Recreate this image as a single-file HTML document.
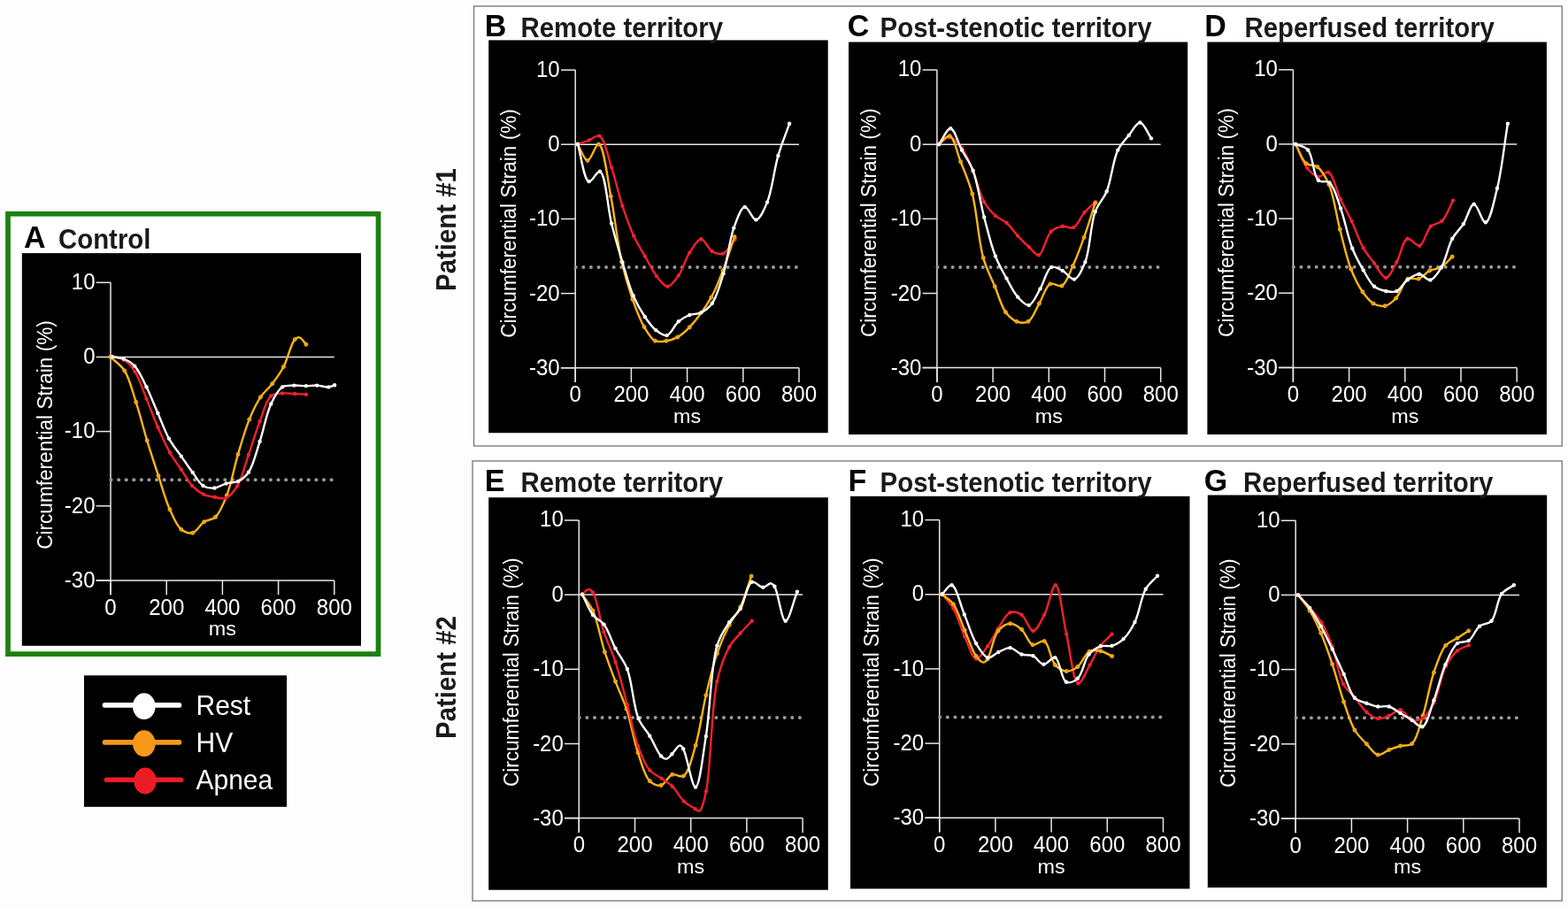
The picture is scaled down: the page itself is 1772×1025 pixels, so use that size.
<!DOCTYPE html>
<html><head><meta charset="utf-8"><title>Circumferential strain</title>
<style>html,body{margin:0;padding:0;background:#fdfdfd;}svg{display:block;}</style>
</head><body>
<svg width="1772" height="1025" viewBox="0 0 1772 1025" font-family='"Liberation Sans", Arial, Helvetica, sans-serif'>
<rect width="1772" height="1025" fill="#fdfdfd"/>
<rect x="9" y="241.7" width="418.5" height="497.4" fill="#ffffff" stroke="#1c8010" stroke-width="5.7"/>
<rect x="535.5" y="7" width="1229.7" height="497" fill="#ffffff" stroke="#737373" stroke-width="1.3"/>
<rect x="534" y="521" width="1231.2" height="497" fill="#ffffff" stroke="#737373" stroke-width="1.3"/>
<text transform="translate(515.3,328.9) rotate(-90) scale(1,1.045)" font-size="29.4" fill="#1a1a1a" font-weight="bold">Patient #1</text>
<text transform="translate(515.2,834.9) rotate(-90) scale(1,1.045)" font-size="29.4" fill="#1a1a1a" font-weight="bold">Patient #2</text>
<rect x="24.8" y="286.1" width="383.2" height="443.7" fill="#000"/>
<g stroke="#e8e8e8" stroke-width="1.5" fill="none"><line x1="125.0" y1="319.3" x2="125.0" y2="672.2"/><line x1="108.7" y1="655.9" x2="377.8" y2="655.9"/><line x1="108.7" y1="319.3" x2="125.0" y2="319.3"/><line x1="108.7" y1="403.5" x2="125.0" y2="403.5"/><line x1="108.7" y1="487.6" x2="125.0" y2="487.6"/><line x1="108.7" y1="571.8" x2="125.0" y2="571.8"/><line x1="108.7" y1="655.9" x2="125.0" y2="655.9"/><line x1="125.0" y1="655.9" x2="125.0" y2="672.2"/><line x1="188.2" y1="655.9" x2="188.2" y2="672.2"/><line x1="251.4" y1="655.9" x2="251.4" y2="672.2"/><line x1="314.6" y1="655.9" x2="314.6" y2="672.2"/><line x1="377.8" y1="655.9" x2="377.8" y2="672.2"/><line x1="125.0" y1="403.5" x2="377.8" y2="403.5"/></g>
<g fill="#9a9a9a"><circle cx="125.5" cy="542.3" r="2"/><circle cx="134.1" cy="542.3" r="2"/><circle cx="142.7" cy="542.3" r="2"/><circle cx="151.3" cy="542.3" r="2"/><circle cx="159.9" cy="542.3" r="2"/><circle cx="168.4" cy="542.3" r="2"/><circle cx="177.0" cy="542.3" r="2"/><circle cx="185.6" cy="542.3" r="2"/><circle cx="194.2" cy="542.3" r="2"/><circle cx="202.8" cy="542.3" r="2"/><circle cx="211.4" cy="542.3" r="2"/><circle cx="220.0" cy="542.3" r="2"/><circle cx="228.6" cy="542.3" r="2"/><circle cx="237.2" cy="542.3" r="2"/><circle cx="245.8" cy="542.3" r="2"/><circle cx="254.3" cy="542.3" r="2"/><circle cx="262.9" cy="542.3" r="2"/><circle cx="271.5" cy="542.3" r="2"/><circle cx="280.1" cy="542.3" r="2"/><circle cx="288.7" cy="542.3" r="2"/><circle cx="297.3" cy="542.3" r="2"/><circle cx="305.9" cy="542.3" r="2"/><circle cx="314.5" cy="542.3" r="2"/><circle cx="323.1" cy="542.3" r="2"/><circle cx="331.7" cy="542.3" r="2"/><circle cx="340.2" cy="542.3" r="2"/><circle cx="348.8" cy="542.3" r="2"/><circle cx="357.4" cy="542.3" r="2"/><circle cx="366.0" cy="542.3" r="2"/><circle cx="374.6" cy="542.3" r="2"/></g>
<text transform="translate(107.5,326.7) scale(1,1.040)" font-size="24.0" fill="#ffffff" text-anchor="end">10</text><text transform="translate(107.5,411.1) scale(1,1.040)" font-size="24.0" fill="#ffffff" text-anchor="end">0</text><text transform="translate(107.5,495.4) scale(1,1.040)" font-size="24.0" fill="#ffffff" text-anchor="end">-10</text><text transform="translate(107.5,579.8) scale(1,1.040)" font-size="24.0" fill="#ffffff" text-anchor="end">-20</text><text transform="translate(107.5,664.1) scale(1,1.040)" font-size="24.0" fill="#ffffff" text-anchor="end">-30</text><text transform="translate(125.0,694.6) scale(1,1.040)" font-size="24.0" fill="#ffffff" text-anchor="middle">0</text><text transform="translate(188.2,694.6) scale(1,1.040)" font-size="24.0" fill="#ffffff" text-anchor="middle">200</text><text transform="translate(251.4,694.6) scale(1,1.040)" font-size="24.0" fill="#ffffff" text-anchor="middle">400</text><text transform="translate(314.6,694.6) scale(1,1.040)" font-size="24.0" fill="#ffffff" text-anchor="middle">600</text><text transform="translate(377.8,694.6) scale(1,1.040)" font-size="24.0" fill="#ffffff" text-anchor="middle">800</text><text transform="translate(251.4,718.2) scale(1,0.980)" font-size="23.4" fill="#ffffff" text-anchor="middle">ms</text>
<text transform="translate(59.3,491.5) rotate(-90) scale(1,1.040)" font-size="22.6" fill="#ffffff" text-anchor="middle">Circumferential Strain (%)</text>
<text transform="translate(27.0,280.4) scale(1,1.035)" font-size="34.0" fill="#000" font-weight="bold">A</text>
<text transform="translate(66.0,281.3) scale(1,1.045)" font-size="29.4" fill="#1a1a1a" font-weight="bold">Control</text>
<rect x="552.2" y="45.4" width="383.5" height="443.8" fill="#000"/>
<g stroke="#e8e8e8" stroke-width="1.5" fill="none"><line x1="650.2" y1="79.1" x2="650.2" y2="432.0"/><line x1="633.9" y1="415.7" x2="903.0" y2="415.7"/><line x1="633.9" y1="79.1" x2="650.2" y2="79.1"/><line x1="633.9" y1="163.2" x2="650.2" y2="163.2"/><line x1="633.9" y1="247.4" x2="650.2" y2="247.4"/><line x1="633.9" y1="331.6" x2="650.2" y2="331.6"/><line x1="633.9" y1="415.7" x2="650.2" y2="415.7"/><line x1="650.2" y1="415.7" x2="650.2" y2="432.0"/><line x1="713.4" y1="415.7" x2="713.4" y2="432.0"/><line x1="776.6" y1="415.7" x2="776.6" y2="432.0"/><line x1="839.8" y1="415.7" x2="839.8" y2="432.0"/><line x1="903.0" y1="415.7" x2="903.0" y2="432.0"/><line x1="650.2" y1="163.2" x2="903.0" y2="163.2"/></g>
<g fill="#9a9a9a"><circle cx="650.7" cy="302.1" r="2"/><circle cx="659.3" cy="302.1" r="2"/><circle cx="667.9" cy="302.1" r="2"/><circle cx="676.5" cy="302.1" r="2"/><circle cx="685.1" cy="302.1" r="2"/><circle cx="693.7" cy="302.1" r="2"/><circle cx="702.2" cy="302.1" r="2"/><circle cx="710.8" cy="302.1" r="2"/><circle cx="719.4" cy="302.1" r="2"/><circle cx="728.0" cy="302.1" r="2"/><circle cx="736.6" cy="302.1" r="2"/><circle cx="745.2" cy="302.1" r="2"/><circle cx="753.8" cy="302.1" r="2"/><circle cx="762.4" cy="302.1" r="2"/><circle cx="771.0" cy="302.1" r="2"/><circle cx="779.6" cy="302.1" r="2"/><circle cx="788.1" cy="302.1" r="2"/><circle cx="796.7" cy="302.1" r="2"/><circle cx="805.3" cy="302.1" r="2"/><circle cx="813.9" cy="302.1" r="2"/><circle cx="822.5" cy="302.1" r="2"/><circle cx="831.1" cy="302.1" r="2"/><circle cx="839.7" cy="302.1" r="2"/><circle cx="848.3" cy="302.1" r="2"/><circle cx="856.9" cy="302.1" r="2"/><circle cx="865.5" cy="302.1" r="2"/><circle cx="874.0" cy="302.1" r="2"/><circle cx="882.6" cy="302.1" r="2"/><circle cx="891.2" cy="302.1" r="2"/><circle cx="899.8" cy="302.1" r="2"/></g>
<text transform="translate(632.7,86.5) scale(1,1.040)" font-size="24.0" fill="#ffffff" text-anchor="end">10</text><text transform="translate(632.7,170.8) scale(1,1.040)" font-size="24.0" fill="#ffffff" text-anchor="end">0</text><text transform="translate(632.7,255.2) scale(1,1.040)" font-size="24.0" fill="#ffffff" text-anchor="end">-10</text><text transform="translate(632.7,339.6) scale(1,1.040)" font-size="24.0" fill="#ffffff" text-anchor="end">-20</text><text transform="translate(632.7,423.9) scale(1,1.040)" font-size="24.0" fill="#ffffff" text-anchor="end">-30</text><text transform="translate(650.2,454.4) scale(1,1.040)" font-size="24.0" fill="#ffffff" text-anchor="middle">0</text><text transform="translate(713.4,454.4) scale(1,1.040)" font-size="24.0" fill="#ffffff" text-anchor="middle">200</text><text transform="translate(776.6,454.4) scale(1,1.040)" font-size="24.0" fill="#ffffff" text-anchor="middle">400</text><text transform="translate(839.8,454.4) scale(1,1.040)" font-size="24.0" fill="#ffffff" text-anchor="middle">600</text><text transform="translate(903.0,454.4) scale(1,1.040)" font-size="24.0" fill="#ffffff" text-anchor="middle">800</text><text transform="translate(776.6,478.0) scale(1,0.980)" font-size="23.4" fill="#ffffff" text-anchor="middle">ms</text>
<text transform="translate(582.6,252.5) rotate(-90) scale(1,1.040)" font-size="22.6" fill="#ffffff" text-anchor="middle">Circumferential Strain (%)</text>
<text transform="translate(547.7,40.9) scale(1,1.035)" font-size="34.0" fill="#000" font-weight="bold">B</text>
<text transform="translate(588.5,42.1) scale(1,1.045)" font-size="29.4" fill="#1a1a1a" font-weight="bold">Remote territory</text>
<rect x="959.0" y="47.5" width="383.2" height="443.5" fill="#000"/>
<g stroke="#e8e8e8" stroke-width="1.5" fill="none"><line x1="1058.9" y1="79.0" x2="1058.9" y2="431.9"/><line x1="1042.6" y1="415.6" x2="1311.7" y2="415.6"/><line x1="1042.6" y1="79.0" x2="1058.9" y2="79.0"/><line x1="1042.6" y1="163.2" x2="1058.9" y2="163.2"/><line x1="1042.6" y1="247.3" x2="1058.9" y2="247.3"/><line x1="1042.6" y1="331.5" x2="1058.9" y2="331.5"/><line x1="1042.6" y1="415.6" x2="1058.9" y2="415.6"/><line x1="1058.9" y1="415.6" x2="1058.9" y2="431.9"/><line x1="1122.1" y1="415.6" x2="1122.1" y2="431.9"/><line x1="1185.3" y1="415.6" x2="1185.3" y2="431.9"/><line x1="1248.5" y1="415.6" x2="1248.5" y2="431.9"/><line x1="1311.7" y1="415.6" x2="1311.7" y2="431.9"/><line x1="1058.9" y1="163.2" x2="1311.7" y2="163.2"/></g>
<g fill="#9a9a9a"><circle cx="1059.4" cy="302.0" r="2"/><circle cx="1068.0" cy="302.0" r="2"/><circle cx="1076.6" cy="302.0" r="2"/><circle cx="1085.2" cy="302.0" r="2"/><circle cx="1093.8" cy="302.0" r="2"/><circle cx="1102.4" cy="302.0" r="2"/><circle cx="1110.9" cy="302.0" r="2"/><circle cx="1119.5" cy="302.0" r="2"/><circle cx="1128.1" cy="302.0" r="2"/><circle cx="1136.7" cy="302.0" r="2"/><circle cx="1145.3" cy="302.0" r="2"/><circle cx="1153.9" cy="302.0" r="2"/><circle cx="1162.5" cy="302.0" r="2"/><circle cx="1171.1" cy="302.0" r="2"/><circle cx="1179.7" cy="302.0" r="2"/><circle cx="1188.2" cy="302.0" r="2"/><circle cx="1196.8" cy="302.0" r="2"/><circle cx="1205.4" cy="302.0" r="2"/><circle cx="1214.0" cy="302.0" r="2"/><circle cx="1222.6" cy="302.0" r="2"/><circle cx="1231.2" cy="302.0" r="2"/><circle cx="1239.8" cy="302.0" r="2"/><circle cx="1248.4" cy="302.0" r="2"/><circle cx="1257.0" cy="302.0" r="2"/><circle cx="1265.6" cy="302.0" r="2"/><circle cx="1274.2" cy="302.0" r="2"/><circle cx="1282.7" cy="302.0" r="2"/><circle cx="1291.3" cy="302.0" r="2"/><circle cx="1299.9" cy="302.0" r="2"/><circle cx="1308.5" cy="302.0" r="2"/></g>
<text transform="translate(1041.4,86.4) scale(1,1.040)" font-size="24.0" fill="#ffffff" text-anchor="end">10</text><text transform="translate(1041.4,170.8) scale(1,1.040)" font-size="24.0" fill="#ffffff" text-anchor="end">0</text><text transform="translate(1041.4,255.1) scale(1,1.040)" font-size="24.0" fill="#ffffff" text-anchor="end">-10</text><text transform="translate(1041.4,339.5) scale(1,1.040)" font-size="24.0" fill="#ffffff" text-anchor="end">-20</text><text transform="translate(1041.4,423.8) scale(1,1.040)" font-size="24.0" fill="#ffffff" text-anchor="end">-30</text><text transform="translate(1058.9,454.3) scale(1,1.040)" font-size="24.0" fill="#ffffff" text-anchor="middle">0</text><text transform="translate(1122.1,454.3) scale(1,1.040)" font-size="24.0" fill="#ffffff" text-anchor="middle">200</text><text transform="translate(1185.3,454.3) scale(1,1.040)" font-size="24.0" fill="#ffffff" text-anchor="middle">400</text><text transform="translate(1248.5,454.3) scale(1,1.040)" font-size="24.0" fill="#ffffff" text-anchor="middle">600</text><text transform="translate(1311.7,454.3) scale(1,1.040)" font-size="24.0" fill="#ffffff" text-anchor="middle">800</text><text transform="translate(1185.3,477.9) scale(1,0.980)" font-size="23.4" fill="#ffffff" text-anchor="middle">ms</text>
<text transform="translate(990.3,251.8) rotate(-90) scale(1,1.040)" font-size="22.6" fill="#ffffff" text-anchor="middle">Circumferential Strain (%)</text>
<text transform="translate(957.7,40.9) scale(1,1.035)" font-size="34.0" fill="#000" font-weight="bold">C</text>
<text transform="translate(994.6,41.8) scale(1,1.045)" font-size="29.4" fill="#1a1a1a" font-weight="bold">Post-stenotic territory</text>
<rect x="1364.4" y="47.5" width="383.5" height="443.5" fill="#000"/>
<g stroke="#e8e8e8" stroke-width="1.5" fill="none"><line x1="1461.4" y1="78.8" x2="1461.4" y2="431.7"/><line x1="1445.1" y1="415.4" x2="1714.2" y2="415.4"/><line x1="1445.1" y1="78.8" x2="1461.4" y2="78.8"/><line x1="1445.1" y1="162.9" x2="1461.4" y2="162.9"/><line x1="1445.1" y1="247.1" x2="1461.4" y2="247.1"/><line x1="1445.1" y1="331.2" x2="1461.4" y2="331.2"/><line x1="1445.1" y1="415.4" x2="1461.4" y2="415.4"/><line x1="1461.4" y1="415.4" x2="1461.4" y2="431.7"/><line x1="1524.6" y1="415.4" x2="1524.6" y2="431.7"/><line x1="1587.8" y1="415.4" x2="1587.8" y2="431.7"/><line x1="1651.0" y1="415.4" x2="1651.0" y2="431.7"/><line x1="1714.2" y1="415.4" x2="1714.2" y2="431.7"/><line x1="1461.4" y1="162.9" x2="1714.2" y2="162.9"/></g>
<g fill="#9a9a9a"><circle cx="1461.9" cy="301.8" r="2"/><circle cx="1470.5" cy="301.8" r="2"/><circle cx="1479.1" cy="301.8" r="2"/><circle cx="1487.7" cy="301.8" r="2"/><circle cx="1496.3" cy="301.8" r="2"/><circle cx="1504.9" cy="301.8" r="2"/><circle cx="1513.4" cy="301.8" r="2"/><circle cx="1522.0" cy="301.8" r="2"/><circle cx="1530.6" cy="301.8" r="2"/><circle cx="1539.2" cy="301.8" r="2"/><circle cx="1547.8" cy="301.8" r="2"/><circle cx="1556.4" cy="301.8" r="2"/><circle cx="1565.0" cy="301.8" r="2"/><circle cx="1573.6" cy="301.8" r="2"/><circle cx="1582.2" cy="301.8" r="2"/><circle cx="1590.8" cy="301.8" r="2"/><circle cx="1599.3" cy="301.8" r="2"/><circle cx="1607.9" cy="301.8" r="2"/><circle cx="1616.5" cy="301.8" r="2"/><circle cx="1625.1" cy="301.8" r="2"/><circle cx="1633.7" cy="301.8" r="2"/><circle cx="1642.3" cy="301.8" r="2"/><circle cx="1650.9" cy="301.8" r="2"/><circle cx="1659.5" cy="301.8" r="2"/><circle cx="1668.1" cy="301.8" r="2"/><circle cx="1676.7" cy="301.8" r="2"/><circle cx="1685.2" cy="301.8" r="2"/><circle cx="1693.8" cy="301.8" r="2"/><circle cx="1702.4" cy="301.8" r="2"/><circle cx="1711.0" cy="301.8" r="2"/></g>
<text transform="translate(1443.9,86.2) scale(1,1.040)" font-size="24.0" fill="#ffffff" text-anchor="end">10</text><text transform="translate(1443.9,170.5) scale(1,1.040)" font-size="24.0" fill="#ffffff" text-anchor="end">0</text><text transform="translate(1443.9,254.9) scale(1,1.040)" font-size="24.0" fill="#ffffff" text-anchor="end">-10</text><text transform="translate(1443.9,339.2) scale(1,1.040)" font-size="24.0" fill="#ffffff" text-anchor="end">-20</text><text transform="translate(1443.9,423.6) scale(1,1.040)" font-size="24.0" fill="#ffffff" text-anchor="end">-30</text><text transform="translate(1461.4,454.1) scale(1,1.040)" font-size="24.0" fill="#ffffff" text-anchor="middle">0</text><text transform="translate(1524.6,454.1) scale(1,1.040)" font-size="24.0" fill="#ffffff" text-anchor="middle">200</text><text transform="translate(1587.8,454.1) scale(1,1.040)" font-size="24.0" fill="#ffffff" text-anchor="middle">400</text><text transform="translate(1651.0,454.1) scale(1,1.040)" font-size="24.0" fill="#ffffff" text-anchor="middle">600</text><text transform="translate(1714.2,454.1) scale(1,1.040)" font-size="24.0" fill="#ffffff" text-anchor="middle">800</text><text transform="translate(1587.8,477.7) scale(1,0.980)" font-size="23.4" fill="#ffffff" text-anchor="middle">ms</text>
<text transform="translate(1393.5,251.6) rotate(-90) scale(1,1.040)" font-size="22.6" fill="#ffffff" text-anchor="middle">Circumferential Strain (%)</text>
<text transform="translate(1361.3,40.5) scale(1,1.035)" font-size="34.0" fill="#000" font-weight="bold">D</text>
<text transform="translate(1406.5,41.8) scale(1,1.045)" font-size="29.4" fill="#1a1a1a" font-weight="bold">Reperfused territory</text>
<rect x="552.2" y="562.2" width="383.6" height="443.5" fill="#000"/>
<g stroke="#e8e8e8" stroke-width="1.5" fill="none"><line x1="654.3" y1="588.0" x2="654.3" y2="940.9"/><line x1="638.0" y1="924.6" x2="907.1" y2="924.6"/><line x1="638.0" y1="588.0" x2="654.3" y2="588.0"/><line x1="638.0" y1="672.1" x2="654.3" y2="672.1"/><line x1="638.0" y1="756.3" x2="654.3" y2="756.3"/><line x1="638.0" y1="840.5" x2="654.3" y2="840.5"/><line x1="638.0" y1="924.6" x2="654.3" y2="924.6"/><line x1="654.3" y1="924.6" x2="654.3" y2="940.9"/><line x1="717.5" y1="924.6" x2="717.5" y2="940.9"/><line x1="780.7" y1="924.6" x2="780.7" y2="940.9"/><line x1="843.9" y1="924.6" x2="843.9" y2="940.9"/><line x1="907.1" y1="924.6" x2="907.1" y2="940.9"/><line x1="654.3" y1="672.1" x2="907.1" y2="672.1"/></g>
<g fill="#9a9a9a"><circle cx="654.8" cy="811.0" r="2"/><circle cx="663.4" cy="811.0" r="2"/><circle cx="672.0" cy="811.0" r="2"/><circle cx="680.6" cy="811.0" r="2"/><circle cx="689.2" cy="811.0" r="2"/><circle cx="697.8" cy="811.0" r="2"/><circle cx="706.3" cy="811.0" r="2"/><circle cx="714.9" cy="811.0" r="2"/><circle cx="723.5" cy="811.0" r="2"/><circle cx="732.1" cy="811.0" r="2"/><circle cx="740.7" cy="811.0" r="2"/><circle cx="749.3" cy="811.0" r="2"/><circle cx="757.9" cy="811.0" r="2"/><circle cx="766.5" cy="811.0" r="2"/><circle cx="775.1" cy="811.0" r="2"/><circle cx="783.6" cy="811.0" r="2"/><circle cx="792.2" cy="811.0" r="2"/><circle cx="800.8" cy="811.0" r="2"/><circle cx="809.4" cy="811.0" r="2"/><circle cx="818.0" cy="811.0" r="2"/><circle cx="826.6" cy="811.0" r="2"/><circle cx="835.2" cy="811.0" r="2"/><circle cx="843.8" cy="811.0" r="2"/><circle cx="852.4" cy="811.0" r="2"/><circle cx="861.0" cy="811.0" r="2"/><circle cx="869.5" cy="811.0" r="2"/><circle cx="878.1" cy="811.0" r="2"/><circle cx="886.7" cy="811.0" r="2"/><circle cx="895.3" cy="811.0" r="2"/><circle cx="903.9" cy="811.0" r="2"/></g>
<text transform="translate(636.8,595.4) scale(1,1.040)" font-size="24.0" fill="#ffffff" text-anchor="end">10</text><text transform="translate(636.8,679.8) scale(1,1.040)" font-size="24.0" fill="#ffffff" text-anchor="end">0</text><text transform="translate(636.8,764.1) scale(1,1.040)" font-size="24.0" fill="#ffffff" text-anchor="end">-10</text><text transform="translate(636.8,848.5) scale(1,1.040)" font-size="24.0" fill="#ffffff" text-anchor="end">-20</text><text transform="translate(636.8,932.8) scale(1,1.040)" font-size="24.0" fill="#ffffff" text-anchor="end">-30</text><text transform="translate(654.3,963.3) scale(1,1.040)" font-size="24.0" fill="#ffffff" text-anchor="middle">0</text><text transform="translate(717.5,963.3) scale(1,1.040)" font-size="24.0" fill="#ffffff" text-anchor="middle">200</text><text transform="translate(780.7,963.3) scale(1,1.040)" font-size="24.0" fill="#ffffff" text-anchor="middle">400</text><text transform="translate(843.9,963.3) scale(1,1.040)" font-size="24.0" fill="#ffffff" text-anchor="middle">600</text><text transform="translate(907.1,963.3) scale(1,1.040)" font-size="24.0" fill="#ffffff" text-anchor="middle">800</text><text transform="translate(780.7,986.9) scale(1,0.980)" font-size="23.4" fill="#ffffff" text-anchor="middle">ms</text>
<text transform="translate(586.0,759.8) rotate(-90) scale(1,1.040)" font-size="22.6" fill="#ffffff" text-anchor="middle">Circumferential Strain (%)</text>
<text transform="translate(547.7,554.5) scale(1,1.035)" font-size="34.0" fill="#000" font-weight="bold">E</text>
<text transform="translate(588.5,556.3) scale(1,1.045)" font-size="29.4" fill="#1a1a1a" font-weight="bold">Remote territory</text>
<rect x="961.0" y="560.8" width="383.5" height="443.6" fill="#000"/>
<g stroke="#e8e8e8" stroke-width="1.5" fill="none"><line x1="1061.7" y1="587.6" x2="1061.7" y2="940.5"/><line x1="1045.4" y1="924.2" x2="1314.5" y2="924.2"/><line x1="1045.4" y1="587.6" x2="1061.7" y2="587.6"/><line x1="1045.4" y1="671.8" x2="1061.7" y2="671.8"/><line x1="1045.4" y1="755.9" x2="1061.7" y2="755.9"/><line x1="1045.4" y1="840.1" x2="1061.7" y2="840.1"/><line x1="1045.4" y1="924.2" x2="1061.7" y2="924.2"/><line x1="1061.7" y1="924.2" x2="1061.7" y2="940.5"/><line x1="1124.9" y1="924.2" x2="1124.9" y2="940.5"/><line x1="1188.1" y1="924.2" x2="1188.1" y2="940.5"/><line x1="1251.3" y1="924.2" x2="1251.3" y2="940.5"/><line x1="1314.5" y1="924.2" x2="1314.5" y2="940.5"/><line x1="1061.7" y1="671.8" x2="1314.5" y2="671.8"/></g>
<g fill="#9a9a9a"><circle cx="1062.2" cy="810.6" r="2"/><circle cx="1070.8" cy="810.6" r="2"/><circle cx="1079.4" cy="810.6" r="2"/><circle cx="1088.0" cy="810.6" r="2"/><circle cx="1096.6" cy="810.6" r="2"/><circle cx="1105.2" cy="810.6" r="2"/><circle cx="1113.7" cy="810.6" r="2"/><circle cx="1122.3" cy="810.6" r="2"/><circle cx="1130.9" cy="810.6" r="2"/><circle cx="1139.5" cy="810.6" r="2"/><circle cx="1148.1" cy="810.6" r="2"/><circle cx="1156.7" cy="810.6" r="2"/><circle cx="1165.3" cy="810.6" r="2"/><circle cx="1173.9" cy="810.6" r="2"/><circle cx="1182.5" cy="810.6" r="2"/><circle cx="1191.0" cy="810.6" r="2"/><circle cx="1199.6" cy="810.6" r="2"/><circle cx="1208.2" cy="810.6" r="2"/><circle cx="1216.8" cy="810.6" r="2"/><circle cx="1225.4" cy="810.6" r="2"/><circle cx="1234.0" cy="810.6" r="2"/><circle cx="1242.6" cy="810.6" r="2"/><circle cx="1251.2" cy="810.6" r="2"/><circle cx="1259.8" cy="810.6" r="2"/><circle cx="1268.4" cy="810.6" r="2"/><circle cx="1277.0" cy="810.6" r="2"/><circle cx="1285.5" cy="810.6" r="2"/><circle cx="1294.1" cy="810.6" r="2"/><circle cx="1302.7" cy="810.6" r="2"/><circle cx="1311.3" cy="810.6" r="2"/></g>
<text transform="translate(1044.2,595.0) scale(1,1.040)" font-size="24.0" fill="#ffffff" text-anchor="end">10</text><text transform="translate(1044.2,679.4) scale(1,1.040)" font-size="24.0" fill="#ffffff" text-anchor="end">0</text><text transform="translate(1044.2,763.7) scale(1,1.040)" font-size="24.0" fill="#ffffff" text-anchor="end">-10</text><text transform="translate(1044.2,848.1) scale(1,1.040)" font-size="24.0" fill="#ffffff" text-anchor="end">-20</text><text transform="translate(1044.2,932.4) scale(1,1.040)" font-size="24.0" fill="#ffffff" text-anchor="end">-30</text><text transform="translate(1061.7,962.9) scale(1,1.040)" font-size="24.0" fill="#ffffff" text-anchor="middle">0</text><text transform="translate(1124.9,962.9) scale(1,1.040)" font-size="24.0" fill="#ffffff" text-anchor="middle">200</text><text transform="translate(1188.1,962.9) scale(1,1.040)" font-size="24.0" fill="#ffffff" text-anchor="middle">400</text><text transform="translate(1251.3,962.9) scale(1,1.040)" font-size="24.0" fill="#ffffff" text-anchor="middle">600</text><text transform="translate(1314.5,962.9) scale(1,1.040)" font-size="24.0" fill="#ffffff" text-anchor="middle">800</text><text transform="translate(1188.1,986.5) scale(1,0.980)" font-size="23.4" fill="#ffffff" text-anchor="middle">ms</text>
<text transform="translate(993.0,759.8) rotate(-90) scale(1,1.040)" font-size="22.6" fill="#ffffff" text-anchor="middle">Circumferential Strain (%)</text>
<text transform="translate(958.4,554.5) scale(1,1.035)" font-size="34.0" fill="#000" font-weight="bold">F</text>
<text transform="translate(994.6,555.6) scale(1,1.045)" font-size="29.4" fill="#1a1a1a" font-weight="bold">Post-stenotic territory</text>
<rect x="1364.8" y="559.5" width="383.4" height="443.5" fill="#000"/>
<g stroke="#e8e8e8" stroke-width="1.5" fill="none"><line x1="1464.2" y1="588.3" x2="1464.2" y2="941.2"/><line x1="1447.9" y1="924.9" x2="1717.0" y2="924.9"/><line x1="1447.9" y1="588.3" x2="1464.2" y2="588.3"/><line x1="1447.9" y1="672.4" x2="1464.2" y2="672.4"/><line x1="1447.9" y1="756.6" x2="1464.2" y2="756.6"/><line x1="1447.9" y1="840.8" x2="1464.2" y2="840.8"/><line x1="1447.9" y1="924.9" x2="1464.2" y2="924.9"/><line x1="1464.2" y1="924.9" x2="1464.2" y2="941.2"/><line x1="1527.4" y1="924.9" x2="1527.4" y2="941.2"/><line x1="1590.6" y1="924.9" x2="1590.6" y2="941.2"/><line x1="1653.8" y1="924.9" x2="1653.8" y2="941.2"/><line x1="1717.0" y1="924.9" x2="1717.0" y2="941.2"/><line x1="1464.2" y1="672.4" x2="1717.0" y2="672.4"/></g>
<g fill="#9a9a9a"><circle cx="1464.7" cy="811.3" r="2"/><circle cx="1473.3" cy="811.3" r="2"/><circle cx="1481.9" cy="811.3" r="2"/><circle cx="1490.5" cy="811.3" r="2"/><circle cx="1499.1" cy="811.3" r="2"/><circle cx="1507.7" cy="811.3" r="2"/><circle cx="1516.2" cy="811.3" r="2"/><circle cx="1524.8" cy="811.3" r="2"/><circle cx="1533.4" cy="811.3" r="2"/><circle cx="1542.0" cy="811.3" r="2"/><circle cx="1550.6" cy="811.3" r="2"/><circle cx="1559.2" cy="811.3" r="2"/><circle cx="1567.8" cy="811.3" r="2"/><circle cx="1576.4" cy="811.3" r="2"/><circle cx="1585.0" cy="811.3" r="2"/><circle cx="1593.5" cy="811.3" r="2"/><circle cx="1602.1" cy="811.3" r="2"/><circle cx="1610.7" cy="811.3" r="2"/><circle cx="1619.3" cy="811.3" r="2"/><circle cx="1627.9" cy="811.3" r="2"/><circle cx="1636.5" cy="811.3" r="2"/><circle cx="1645.1" cy="811.3" r="2"/><circle cx="1653.7" cy="811.3" r="2"/><circle cx="1662.3" cy="811.3" r="2"/><circle cx="1670.9" cy="811.3" r="2"/><circle cx="1679.5" cy="811.3" r="2"/><circle cx="1688.0" cy="811.3" r="2"/><circle cx="1696.6" cy="811.3" r="2"/><circle cx="1705.2" cy="811.3" r="2"/><circle cx="1713.8" cy="811.3" r="2"/></g>
<text transform="translate(1446.7,595.7) scale(1,1.040)" font-size="24.0" fill="#ffffff" text-anchor="end">10</text><text transform="translate(1446.7,680.0) scale(1,1.040)" font-size="24.0" fill="#ffffff" text-anchor="end">0</text><text transform="translate(1446.7,764.4) scale(1,1.040)" font-size="24.0" fill="#ffffff" text-anchor="end">-10</text><text transform="translate(1446.7,848.8) scale(1,1.040)" font-size="24.0" fill="#ffffff" text-anchor="end">-20</text><text transform="translate(1446.7,933.1) scale(1,1.040)" font-size="24.0" fill="#ffffff" text-anchor="end">-30</text><text transform="translate(1464.2,963.6) scale(1,1.040)" font-size="24.0" fill="#ffffff" text-anchor="middle">0</text><text transform="translate(1527.4,963.6) scale(1,1.040)" font-size="24.0" fill="#ffffff" text-anchor="middle">200</text><text transform="translate(1590.6,963.6) scale(1,1.040)" font-size="24.0" fill="#ffffff" text-anchor="middle">400</text><text transform="translate(1653.8,963.6) scale(1,1.040)" font-size="24.0" fill="#ffffff" text-anchor="middle">600</text><text transform="translate(1717.0,963.6) scale(1,1.040)" font-size="24.0" fill="#ffffff" text-anchor="middle">800</text><text transform="translate(1590.6,987.2) scale(1,0.980)" font-size="23.4" fill="#ffffff" text-anchor="middle">ms</text>
<text transform="translate(1396.3,760.8) rotate(-90) scale(1,1.040)" font-size="22.6" fill="#ffffff" text-anchor="middle">Circumferential Strain (%)</text>
<text transform="translate(1360.7,554.5) scale(1,1.035)" font-size="34.0" fill="#000" font-weight="bold">G</text>
<text transform="translate(1405.0,555.6) scale(1,1.045)" font-size="29.4" fill="#1a1a1a" font-weight="bold">Reperfused territory</text>
<path d="M124.7,403.3 C130.1,408.5 136.3,412.1 140.8,419.0 C146.6,428.0 149.6,441.9 153.7,454.4 C158.1,468.1 161.9,483.7 166.2,497.8 C170.3,511.4 174.7,524.6 179.0,537.7 C183.2,550.5 187.0,564.9 191.9,575.7 C195.8,584.4 199.5,594.1 204.8,598.3 C208.6,601.3 213.7,603.2 217.7,602.2 C222.4,601.1 226.0,592.7 230.6,589.7 C234.7,587.0 239.7,587.8 243.5,584.3 C248.8,579.4 252.5,569.5 256.3,559.8 C261.3,547.0 264.6,528.2 269.0,513.4 C273.1,499.7 277.0,485.6 281.7,474.1 C285.6,464.6 289.6,455.9 294.4,448.8 C298.5,442.8 303.6,439.0 307.8,433.5 C312.3,427.6 316.6,421.8 320.5,414.5 C325.2,405.6 328.9,387.9 333.2,383.6 C335.0,381.8 336.7,381.0 338.5,381.4 C340.9,381.9 343.4,386.6 345.9,389.2" fill="none" stroke="#ffb612" stroke-width="2.4" stroke-linejoin="round" stroke-linecap="round"/>
<circle cx="124.7" cy="403.3" r="2.0" fill="#f7941d" stroke="#ffc20e" stroke-width="0.9"/>
<circle cx="140.8" cy="419.0" r="2.0" fill="#f7941d" stroke="#ffc20e" stroke-width="0.9"/>
<circle cx="153.7" cy="454.4" r="2.0" fill="#f7941d" stroke="#ffc20e" stroke-width="0.9"/>
<circle cx="166.2" cy="497.8" r="2.0" fill="#f7941d" stroke="#ffc20e" stroke-width="0.9"/>
<circle cx="179.0" cy="537.7" r="2.0" fill="#f7941d" stroke="#ffc20e" stroke-width="0.9"/>
<circle cx="191.9" cy="575.7" r="2.0" fill="#f7941d" stroke="#ffc20e" stroke-width="0.9"/>
<circle cx="204.8" cy="598.3" r="2.0" fill="#f7941d" stroke="#ffc20e" stroke-width="0.9"/>
<circle cx="217.7" cy="602.2" r="2.0" fill="#f7941d" stroke="#ffc20e" stroke-width="0.9"/>
<circle cx="230.6" cy="589.7" r="2.0" fill="#f7941d" stroke="#ffc20e" stroke-width="0.9"/>
<circle cx="243.5" cy="584.3" r="2.0" fill="#f7941d" stroke="#ffc20e" stroke-width="0.9"/>
<circle cx="256.3" cy="559.8" r="2.0" fill="#f7941d" stroke="#ffc20e" stroke-width="0.9"/>
<circle cx="269.0" cy="513.4" r="2.0" fill="#f7941d" stroke="#ffc20e" stroke-width="0.9"/>
<circle cx="281.7" cy="474.1" r="2.0" fill="#f7941d" stroke="#ffc20e" stroke-width="0.9"/>
<circle cx="294.4" cy="448.8" r="2.0" fill="#f7941d" stroke="#ffc20e" stroke-width="0.9"/>
<circle cx="307.8" cy="433.5" r="2.0" fill="#f7941d" stroke="#ffc20e" stroke-width="0.9"/>
<circle cx="320.5" cy="414.5" r="2.0" fill="#f7941d" stroke="#ffc20e" stroke-width="0.9"/>
<circle cx="333.2" cy="383.6" r="2.0" fill="#f7941d" stroke="#ffc20e" stroke-width="0.9"/>
<circle cx="345.9" cy="389.2" r="2.0" fill="#f7941d" stroke="#ffc20e" stroke-width="0.9"/>
<path d="M126.9,403.3 C131.2,404.4 135.8,404.2 139.8,406.5 C144.5,409.3 148.8,414.2 152.6,420.1 C157.7,427.9 161.2,440.3 165.5,450.6 C169.9,461.2 173.9,472.5 178.4,482.8 C182.7,492.7 187.1,502.9 191.9,511.3 C196.0,518.5 200.5,524.3 204.8,530.6 C208.9,536.8 212.5,544.0 217.1,548.9 C221.0,553.0 225.4,556.4 229.9,558.6 C234.0,560.6 238.5,561.1 242.8,561.8 C246.9,562.5 251.3,564.4 255.1,562.9 C259.9,561.1 264.5,555.2 268.3,549.0 C273.6,540.4 276.8,525.9 280.9,514.0 C285.2,501.7 289.1,487.8 293.6,476.2 C297.6,465.9 300.6,452.2 306.3,447.5 C309.9,444.5 314.6,444.9 319.0,444.5 C323.6,444.0 328.6,444.8 333.2,445.0 C337.6,445.2 341.7,445.5 345.9,445.7" fill="none" stroke="#f5202e" stroke-width="2.4" stroke-linejoin="round" stroke-linecap="round"/>
<circle cx="126.9" cy="403.3" r="2.2" fill="#f5202e"/>
<circle cx="139.8" cy="406.5" r="2.2" fill="#f5202e"/>
<circle cx="152.6" cy="420.1" r="2.2" fill="#f5202e"/>
<circle cx="165.5" cy="450.6" r="2.2" fill="#f5202e"/>
<circle cx="178.4" cy="482.8" r="2.2" fill="#f5202e"/>
<circle cx="191.9" cy="511.3" r="2.2" fill="#f5202e"/>
<circle cx="204.8" cy="530.6" r="2.2" fill="#f5202e"/>
<circle cx="217.1" cy="548.9" r="2.2" fill="#f5202e"/>
<circle cx="229.9" cy="558.6" r="2.2" fill="#f5202e"/>
<circle cx="242.8" cy="561.8" r="2.2" fill="#f5202e"/>
<circle cx="255.1" cy="562.9" r="2.2" fill="#f5202e"/>
<circle cx="268.3" cy="549.0" r="2.2" fill="#f5202e"/>
<circle cx="280.9" cy="514.0" r="2.2" fill="#f5202e"/>
<circle cx="293.6" cy="476.2" r="2.2" fill="#f5202e"/>
<circle cx="306.3" cy="447.5" r="2.2" fill="#f5202e"/>
<circle cx="319.0" cy="444.5" r="2.2" fill="#f5202e"/>
<circle cx="333.2" cy="445.0" r="2.2" fill="#f5202e"/>
<circle cx="345.9" cy="445.7" r="2.2" fill="#f5202e"/>
<path d="M126.9,403.3 C131.2,404.0 135.7,403.9 139.8,405.5 C144.2,407.2 148.4,409.6 152.2,413.6 C157.3,419.0 161.3,428.8 165.5,437.2 C170.1,446.4 174.1,457.1 178.4,466.9 C182.6,476.5 186.2,487.1 190.9,495.6 C195.1,503.1 200.2,509.1 204.8,515.6 C209.2,521.8 213.4,528.2 217.7,533.9 C221.7,539.2 224.9,546.1 229.5,548.9 C233.3,551.3 238.1,551.9 242.4,551.5 C246.8,551.1 251.1,547.7 255.6,546.4 C260.0,545.2 264.9,545.9 269.0,543.9 C273.4,541.8 277.4,538.7 280.9,533.7 C286.3,526.0 289.5,511.2 293.6,499.0 C298.0,485.6 301.1,467.5 306.3,456.4 C310.0,448.5 313.9,440.6 319.0,437.4 C322.9,434.9 327.9,435.8 332.4,435.6 C336.9,435.4 341.5,436.1 345.9,436.1 C350.1,436.1 354.1,435.4 358.3,435.6 C362.6,435.8 367.6,437.7 371.2,437.4 C373.9,437.2 375.8,436.0 378.1,435.3" fill="none" stroke="#ffffff" stroke-width="2.4" stroke-linejoin="round" stroke-linecap="round"/>
<circle cx="126.9" cy="403.3" r="2.2" fill="#ffffff"/>
<circle cx="139.8" cy="405.5" r="2.2" fill="#ffffff"/>
<circle cx="152.2" cy="413.6" r="2.2" fill="#ffffff"/>
<circle cx="165.5" cy="437.2" r="2.2" fill="#ffffff"/>
<circle cx="178.4" cy="466.9" r="2.2" fill="#ffffff"/>
<circle cx="190.9" cy="495.6" r="2.2" fill="#ffffff"/>
<circle cx="204.8" cy="515.6" r="2.2" fill="#ffffff"/>
<circle cx="217.7" cy="533.9" r="2.2" fill="#ffffff"/>
<circle cx="229.5" cy="548.9" r="2.2" fill="#ffffff"/>
<circle cx="242.4" cy="551.5" r="2.2" fill="#ffffff"/>
<circle cx="255.6" cy="546.4" r="2.2" fill="#ffffff"/>
<circle cx="269.0" cy="543.9" r="2.2" fill="#ffffff"/>
<circle cx="280.9" cy="533.7" r="2.2" fill="#ffffff"/>
<circle cx="293.6" cy="499.0" r="2.2" fill="#ffffff"/>
<circle cx="306.3" cy="456.4" r="2.2" fill="#ffffff"/>
<circle cx="319.0" cy="437.4" r="2.2" fill="#ffffff"/>
<circle cx="332.4" cy="435.6" r="2.2" fill="#ffffff"/>
<circle cx="345.9" cy="436.1" r="2.2" fill="#ffffff"/>
<circle cx="358.3" cy="435.6" r="2.2" fill="#ffffff"/>
<circle cx="371.2" cy="437.4" r="2.2" fill="#ffffff"/>
<circle cx="378.1" cy="435.3" r="2.2" fill="#ffffff"/>
<path d="M652.9,163.0 C657.1,161.5 661.5,160.1 665.6,158.5 C669.6,157.0 673.9,152.1 677.3,153.6 C683.3,156.1 686.9,176.7 691.1,189.3 C695.7,203.0 699.0,219.3 703.5,232.8 C707.5,244.9 711.6,256.6 716.2,266.6 C720.1,275.1 724.5,281.9 728.8,289.5 C733.1,297.0 737.2,305.9 742.0,311.9 C745.9,316.8 750.3,323.8 754.4,323.8 C758.6,323.8 763.1,316.7 766.8,311.4 C771.6,304.7 774.5,292.8 779.2,285.6 C783.2,279.5 788.0,270.4 792.4,270.3 C796.6,270.3 800.2,281.4 804.8,284.0 C808.5,286.2 813.1,287.9 816.9,286.6 C821.8,284.9 826.0,276.1 830.6,270.8" fill="none" stroke="#f5202e" stroke-width="2.4" stroke-linejoin="round" stroke-linecap="round"/>
<circle cx="652.9" cy="163.0" r="2.2" fill="#f5202e"/>
<circle cx="665.6" cy="158.5" r="2.2" fill="#f5202e"/>
<circle cx="677.3" cy="153.6" r="2.2" fill="#f5202e"/>
<circle cx="691.1" cy="189.3" r="2.2" fill="#f5202e"/>
<circle cx="703.5" cy="232.8" r="2.2" fill="#f5202e"/>
<circle cx="716.2" cy="266.6" r="2.2" fill="#f5202e"/>
<circle cx="728.8" cy="289.5" r="2.2" fill="#f5202e"/>
<circle cx="742.0" cy="311.9" r="2.2" fill="#f5202e"/>
<circle cx="754.4" cy="323.8" r="2.2" fill="#f5202e"/>
<circle cx="766.8" cy="311.4" r="2.2" fill="#f5202e"/>
<circle cx="779.2" cy="285.6" r="2.2" fill="#f5202e"/>
<circle cx="792.4" cy="270.3" r="2.2" fill="#f5202e"/>
<circle cx="804.8" cy="284.0" r="2.2" fill="#f5202e"/>
<circle cx="816.9" cy="286.6" r="2.2" fill="#f5202e"/>
<circle cx="830.6" cy="270.8" r="2.2" fill="#f5202e"/>
<path d="M652.9,163.0 C656.6,169.1 660.1,181.3 664.0,181.4 C668.0,181.5 672.9,162.3 676.6,163.0 C682.6,164.1 686.2,200.9 690.3,221.7 C694.9,244.8 697.7,274.4 702.5,295.6 C706.2,311.9 710.3,325.3 714.9,338.3 C718.9,349.6 723.1,361.0 728.0,369.4 C731.8,375.9 735.6,382.9 740.4,385.2 C744.2,387.1 748.9,385.9 753.1,385.2 C757.4,384.5 761.6,383.3 765.7,381.0 C770.4,378.4 774.4,375.0 779.2,369.9 C786.6,362.0 797.2,347.5 803.7,336.2 C809.5,326.1 812.7,316.7 816.9,305.9 C821.5,294.0 825.7,280.4 830.1,267.6" fill="none" stroke="#ffb612" stroke-width="2.4" stroke-linejoin="round" stroke-linecap="round"/>
<circle cx="652.9" cy="163.0" r="2.0" fill="#f7941d" stroke="#ffc20e" stroke-width="0.9"/>
<circle cx="664.0" cy="181.4" r="2.0" fill="#f7941d" stroke="#ffc20e" stroke-width="0.9"/>
<circle cx="676.6" cy="163.0" r="2.0" fill="#f7941d" stroke="#ffc20e" stroke-width="0.9"/>
<circle cx="690.3" cy="221.7" r="2.0" fill="#f7941d" stroke="#ffc20e" stroke-width="0.9"/>
<circle cx="702.5" cy="295.6" r="2.0" fill="#f7941d" stroke="#ffc20e" stroke-width="0.9"/>
<circle cx="714.9" cy="338.3" r="2.0" fill="#f7941d" stroke="#ffc20e" stroke-width="0.9"/>
<circle cx="728.0" cy="369.4" r="2.0" fill="#f7941d" stroke="#ffc20e" stroke-width="0.9"/>
<circle cx="740.4" cy="385.2" r="2.0" fill="#f7941d" stroke="#ffc20e" stroke-width="0.9"/>
<circle cx="753.1" cy="385.2" r="2.0" fill="#f7941d" stroke="#ffc20e" stroke-width="0.9"/>
<circle cx="765.7" cy="381.0" r="2.0" fill="#f7941d" stroke="#ffc20e" stroke-width="0.9"/>
<circle cx="779.2" cy="369.9" r="2.0" fill="#f7941d" stroke="#ffc20e" stroke-width="0.9"/>
<circle cx="803.7" cy="336.2" r="2.0" fill="#f7941d" stroke="#ffc20e" stroke-width="0.9"/>
<circle cx="816.9" cy="305.9" r="2.0" fill="#f7941d" stroke="#ffc20e" stroke-width="0.9"/>
<circle cx="830.1" cy="267.6" r="2.0" fill="#f7941d" stroke="#ffc20e" stroke-width="0.9"/>
<path d="M652.9,163.0 C657.1,177.0 659.8,203.5 665.6,205.1 C669.2,206.1 674.5,192.7 678.0,193.8 C684.6,195.9 686.5,234.5 691.1,252.6 C695.1,268.4 699.2,282.5 703.5,296.6 C707.5,309.7 711.0,323.4 715.7,334.3 C719.6,343.3 724.2,351.2 728.8,358.0 C732.7,363.8 736.6,369.5 741.2,373.1 C745.0,376.1 749.7,379.9 753.6,379.1 C758.4,378.1 762.1,367.3 766.8,363.3 C770.7,360.0 774.9,357.7 779.2,356.0 C783.4,354.4 788.3,355.3 792.4,353.3 C796.9,351.1 801.2,347.9 804.8,342.8 C810.2,335.2 813.7,321.8 817.5,309.3 C822.1,294.1 824.3,271.3 829.3,257.6 C832.9,247.9 837.1,234.4 841.7,233.9 C845.6,233.4 850.4,248.7 854.4,248.4 C858.8,248.1 863.4,237.2 867.0,228.6 C872.5,215.6 874.8,191.7 879.4,175.9 C883.3,162.6 887.9,151.8 892.1,139.8" fill="none" stroke="#ffffff" stroke-width="2.4" stroke-linejoin="round" stroke-linecap="round"/>
<circle cx="652.9" cy="163.0" r="2.2" fill="#ffffff"/>
<circle cx="665.6" cy="205.1" r="2.2" fill="#ffffff"/>
<circle cx="678.0" cy="193.8" r="2.2" fill="#ffffff"/>
<circle cx="691.1" cy="252.6" r="2.2" fill="#ffffff"/>
<circle cx="703.5" cy="296.6" r="2.2" fill="#ffffff"/>
<circle cx="715.7" cy="334.3" r="2.2" fill="#ffffff"/>
<circle cx="728.8" cy="358.0" r="2.2" fill="#ffffff"/>
<circle cx="741.2" cy="373.1" r="2.2" fill="#ffffff"/>
<circle cx="753.6" cy="379.1" r="2.2" fill="#ffffff"/>
<circle cx="766.8" cy="363.3" r="2.2" fill="#ffffff"/>
<circle cx="779.2" cy="356.0" r="2.2" fill="#ffffff"/>
<circle cx="792.4" cy="353.3" r="2.2" fill="#ffffff"/>
<circle cx="804.8" cy="342.8" r="2.2" fill="#ffffff"/>
<circle cx="817.5" cy="309.3" r="2.2" fill="#ffffff"/>
<circle cx="829.3" cy="257.6" r="2.2" fill="#ffffff"/>
<circle cx="841.7" cy="233.9" r="2.2" fill="#ffffff"/>
<circle cx="854.4" cy="248.4" r="2.2" fill="#ffffff"/>
<circle cx="867.0" cy="228.6" r="2.2" fill="#ffffff"/>
<circle cx="879.4" cy="175.9" r="2.2" fill="#ffffff"/>
<circle cx="892.1" cy="139.8" r="2.2" fill="#ffffff"/>
<path d="M1061.1,163.0 C1064.9,160.3 1068.5,154.9 1072.4,155.0 C1077.0,155.2 1082.7,161.6 1086.9,166.9 C1092.1,173.6 1095.6,183.8 1099.6,193.3 C1104.1,204.0 1107.1,219.1 1112.2,228.1 C1116.0,234.8 1120.5,239.8 1125.1,243.9 C1129.0,247.4 1133.6,248.4 1137.5,251.8 C1142.0,255.7 1145.9,262.0 1150.2,266.6 C1154.3,271.0 1158.7,275.3 1162.8,279.0 C1166.5,282.4 1170.4,288.9 1173.9,288.2 C1178.9,287.2 1182.1,267.1 1187.7,261.8 C1191.6,258.1 1196.4,256.5 1200.8,255.8 C1204.9,255.1 1209.5,258.8 1213.2,257.1 C1218.0,254.9 1221.2,245.0 1225.6,240.0 C1229.6,235.5 1234.1,232.1 1238.3,228.1" fill="none" stroke="#f5202e" stroke-width="2.4" stroke-linejoin="round" stroke-linecap="round"/>
<circle cx="1061.1" cy="163.0" r="2.2" fill="#f5202e"/>
<circle cx="1072.4" cy="155.0" r="2.2" fill="#f5202e"/>
<circle cx="1086.9" cy="166.9" r="2.2" fill="#f5202e"/>
<circle cx="1099.6" cy="193.3" r="2.2" fill="#f5202e"/>
<circle cx="1112.2" cy="228.1" r="2.2" fill="#f5202e"/>
<circle cx="1125.1" cy="243.9" r="2.2" fill="#f5202e"/>
<circle cx="1137.5" cy="251.8" r="2.2" fill="#f5202e"/>
<circle cx="1150.2" cy="266.6" r="2.2" fill="#f5202e"/>
<circle cx="1162.8" cy="279.0" r="2.2" fill="#f5202e"/>
<circle cx="1173.9" cy="288.2" r="2.2" fill="#f5202e"/>
<circle cx="1187.7" cy="261.8" r="2.2" fill="#f5202e"/>
<circle cx="1200.8" cy="255.8" r="2.2" fill="#f5202e"/>
<circle cx="1213.2" cy="257.1" r="2.2" fill="#f5202e"/>
<circle cx="1225.6" cy="240.0" r="2.2" fill="#f5202e"/>
<circle cx="1238.3" cy="228.1" r="2.2" fill="#f5202e"/>
<path d="M1061.1,163.0 C1065.1,159.9 1069.6,152.8 1073.2,153.7 C1078.3,155.0 1081.5,172.4 1085.6,182.7 C1090.1,194.1 1095.0,204.7 1098.8,219.1 C1104.0,238.9 1105.8,272.2 1111.2,291.3 C1115.0,304.5 1120.0,313.3 1124.3,323.8 C1128.4,333.8 1131.5,345.9 1136.5,352.8 C1140.1,357.7 1144.4,361.6 1148.9,363.3 C1153.0,364.8 1158.2,365.4 1162.0,363.3 C1167.1,360.4 1170.3,349.9 1174.4,343.0 C1178.6,335.8 1181.6,323.4 1186.9,320.9 C1190.7,319.1 1196.2,324.8 1200.0,323.0 C1205.3,320.4 1208.5,308.9 1212.4,300.6 C1216.9,290.9 1221.0,279.5 1225.1,268.2 C1229.5,255.9 1233.5,242.3 1237.7,229.4" fill="none" stroke="#ffb612" stroke-width="2.4" stroke-linejoin="round" stroke-linecap="round"/>
<circle cx="1061.1" cy="163.0" r="2.0" fill="#f7941d" stroke="#ffc20e" stroke-width="0.9"/>
<circle cx="1073.2" cy="153.7" r="2.0" fill="#f7941d" stroke="#ffc20e" stroke-width="0.9"/>
<circle cx="1085.6" cy="182.7" r="2.0" fill="#f7941d" stroke="#ffc20e" stroke-width="0.9"/>
<circle cx="1098.8" cy="219.1" r="2.0" fill="#f7941d" stroke="#ffc20e" stroke-width="0.9"/>
<circle cx="1111.2" cy="291.3" r="2.0" fill="#f7941d" stroke="#ffc20e" stroke-width="0.9"/>
<circle cx="1124.3" cy="323.8" r="2.0" fill="#f7941d" stroke="#ffc20e" stroke-width="0.9"/>
<circle cx="1136.5" cy="352.8" r="2.0" fill="#f7941d" stroke="#ffc20e" stroke-width="0.9"/>
<circle cx="1148.9" cy="363.3" r="2.0" fill="#f7941d" stroke="#ffc20e" stroke-width="0.9"/>
<circle cx="1162.0" cy="363.3" r="2.0" fill="#f7941d" stroke="#ffc20e" stroke-width="0.9"/>
<circle cx="1174.4" cy="343.0" r="2.0" fill="#f7941d" stroke="#ffc20e" stroke-width="0.9"/>
<circle cx="1186.9" cy="320.9" r="2.0" fill="#f7941d" stroke="#ffc20e" stroke-width="0.9"/>
<circle cx="1200.0" cy="323.0" r="2.0" fill="#f7941d" stroke="#ffc20e" stroke-width="0.9"/>
<circle cx="1212.4" cy="300.6" r="2.0" fill="#f7941d" stroke="#ffc20e" stroke-width="0.9"/>
<circle cx="1225.1" cy="268.2" r="2.0" fill="#f7941d" stroke="#ffc20e" stroke-width="0.9"/>
<circle cx="1237.7" cy="229.4" r="2.0" fill="#f7941d" stroke="#ffc20e" stroke-width="0.9"/>
<path d="M1061.1,163.0 C1065.5,157.1 1070.2,145.0 1074.3,145.3 C1078.9,145.7 1082.6,161.5 1086.9,169.5 C1091.1,177.3 1095.9,183.1 1099.6,192.7 C1104.9,206.5 1107.8,228.8 1112.2,245.5 C1116.3,260.9 1120.0,277.1 1124.9,289.5 C1128.7,299.2 1133.1,306.7 1137.5,314.6 C1141.6,322.0 1145.4,330.3 1150.2,335.6 C1154.0,339.8 1158.9,345.6 1162.8,344.9 C1167.5,344.1 1171.5,333.1 1175.5,326.4 C1180.0,318.9 1182.9,304.1 1188.2,301.9 C1191.9,300.4 1196.7,303.8 1200.8,305.9 C1205.3,308.2 1210.0,316.3 1214.0,315.6 C1218.7,314.7 1222.9,304.7 1226.4,296.1 C1231.9,282.4 1232.3,253.6 1237.7,239.2 C1241.3,229.5 1246.9,225.5 1250.7,216.2 C1255.9,203.6 1257.8,180.9 1263.3,169.6 C1266.9,162.2 1271.4,158.3 1275.7,153.0 C1279.8,147.9 1284.3,138.3 1288.4,138.5 C1292.8,138.7 1296.8,150.4 1301.0,156.4" fill="none" stroke="#ffffff" stroke-width="2.4" stroke-linejoin="round" stroke-linecap="round"/>
<circle cx="1061.1" cy="163.0" r="2.2" fill="#ffffff"/>
<circle cx="1074.3" cy="145.3" r="2.2" fill="#ffffff"/>
<circle cx="1086.9" cy="169.5" r="2.2" fill="#ffffff"/>
<circle cx="1099.6" cy="192.7" r="2.2" fill="#ffffff"/>
<circle cx="1112.2" cy="245.5" r="2.2" fill="#ffffff"/>
<circle cx="1124.9" cy="289.5" r="2.2" fill="#ffffff"/>
<circle cx="1137.5" cy="314.6" r="2.2" fill="#ffffff"/>
<circle cx="1150.2" cy="335.6" r="2.2" fill="#ffffff"/>
<circle cx="1162.8" cy="344.9" r="2.2" fill="#ffffff"/>
<circle cx="1175.5" cy="326.4" r="2.2" fill="#ffffff"/>
<circle cx="1188.2" cy="301.9" r="2.2" fill="#ffffff"/>
<circle cx="1200.8" cy="305.9" r="2.2" fill="#ffffff"/>
<circle cx="1214.0" cy="315.6" r="2.2" fill="#ffffff"/>
<circle cx="1226.4" cy="296.1" r="2.2" fill="#ffffff"/>
<circle cx="1237.7" cy="239.2" r="2.2" fill="#ffffff"/>
<circle cx="1250.7" cy="216.2" r="2.2" fill="#ffffff"/>
<circle cx="1263.3" cy="169.6" r="2.2" fill="#ffffff"/>
<circle cx="1275.7" cy="153.0" r="2.2" fill="#ffffff"/>
<circle cx="1288.4" cy="138.5" r="2.2" fill="#ffffff"/>
<circle cx="1301.0" cy="156.4" r="2.2" fill="#ffffff"/>
<path d="M1464.2,163.0 C1468.6,172.0 1472.2,183.7 1477.4,190.1 C1481.1,194.7 1485.6,199.4 1489.8,199.9 C1493.5,200.3 1497.7,193.3 1501.1,194.6 C1506.7,196.7 1510.5,215.8 1515.1,225.4 C1519.3,234.1 1523.4,241.3 1527.5,250.0 C1532.0,259.5 1535.9,271.9 1540.7,280.3 C1544.6,287.1 1548.8,291.8 1553.1,297.4 C1557.4,303.0 1562.1,314.2 1566.3,314.0 C1570.5,313.8 1574.6,302.8 1578.4,296.1 C1582.8,288.3 1585.2,271.5 1590.5,269.8 C1594.4,268.5 1600.3,278.8 1604.3,277.7 C1609.4,276.3 1611.9,260.5 1616.9,255.8 C1620.7,252.3 1625.9,253.3 1629.6,249.7 C1634.7,244.9 1637.9,234.4 1642.0,226.8" fill="none" stroke="#f5202e" stroke-width="2.4" stroke-linejoin="round" stroke-linecap="round"/>
<circle cx="1464.2" cy="163.0" r="2.2" fill="#f5202e"/>
<circle cx="1477.4" cy="190.1" r="2.2" fill="#f5202e"/>
<circle cx="1489.8" cy="199.9" r="2.2" fill="#f5202e"/>
<circle cx="1501.1" cy="194.6" r="2.2" fill="#f5202e"/>
<circle cx="1515.1" cy="225.4" r="2.2" fill="#f5202e"/>
<circle cx="1527.5" cy="250.0" r="2.2" fill="#f5202e"/>
<circle cx="1540.7" cy="280.3" r="2.2" fill="#f5202e"/>
<circle cx="1553.1" cy="297.4" r="2.2" fill="#f5202e"/>
<circle cx="1566.3" cy="314.0" r="2.2" fill="#f5202e"/>
<circle cx="1578.4" cy="296.1" r="2.2" fill="#f5202e"/>
<circle cx="1590.5" cy="269.8" r="2.2" fill="#f5202e"/>
<circle cx="1604.3" cy="277.7" r="2.2" fill="#f5202e"/>
<circle cx="1616.9" cy="255.8" r="2.2" fill="#f5202e"/>
<circle cx="1629.6" cy="249.7" r="2.2" fill="#f5202e"/>
<circle cx="1642.0" cy="226.8" r="2.2" fill="#f5202e"/>
<path d="M1464.2,163.0 C1468.2,170.3 1471.1,180.8 1476.1,184.8 C1479.7,187.7 1484.9,185.7 1488.7,188.5 C1493.8,192.3 1498.1,200.0 1501.9,208.6 C1507.4,221.3 1510.0,242.9 1514.3,259.2 C1518.3,274.6 1521.8,291.3 1526.7,304.0 C1530.6,314.0 1535.1,322.9 1539.9,329.8 C1543.7,335.2 1547.4,340.4 1552.0,343.0 C1556.0,345.3 1561.0,346.6 1565.2,345.7 C1569.6,344.8 1573.8,341.1 1577.6,337.0 C1582.6,331.7 1585.8,318.1 1591.1,315.1 C1594.7,313.1 1599.3,316.4 1603.2,315.1 C1607.6,313.7 1611.2,308.1 1615.6,305.9 C1619.8,303.8 1624.7,304.3 1628.8,301.9 C1633.3,299.3 1637.1,294.0 1641.2,290.1" fill="none" stroke="#ffb612" stroke-width="2.4" stroke-linejoin="round" stroke-linecap="round"/>
<circle cx="1464.2" cy="163.0" r="2.0" fill="#f7941d" stroke="#ffc20e" stroke-width="0.9"/>
<circle cx="1476.1" cy="184.8" r="2.0" fill="#f7941d" stroke="#ffc20e" stroke-width="0.9"/>
<circle cx="1488.7" cy="188.5" r="2.0" fill="#f7941d" stroke="#ffc20e" stroke-width="0.9"/>
<circle cx="1501.9" cy="208.6" r="2.0" fill="#f7941d" stroke="#ffc20e" stroke-width="0.9"/>
<circle cx="1514.3" cy="259.2" r="2.0" fill="#f7941d" stroke="#ffc20e" stroke-width="0.9"/>
<circle cx="1526.7" cy="304.0" r="2.0" fill="#f7941d" stroke="#ffc20e" stroke-width="0.9"/>
<circle cx="1539.9" cy="329.8" r="2.0" fill="#f7941d" stroke="#ffc20e" stroke-width="0.9"/>
<circle cx="1552.0" cy="343.0" r="2.0" fill="#f7941d" stroke="#ffc20e" stroke-width="0.9"/>
<circle cx="1565.2" cy="345.7" r="2.0" fill="#f7941d" stroke="#ffc20e" stroke-width="0.9"/>
<circle cx="1577.6" cy="337.0" r="2.0" fill="#f7941d" stroke="#ffc20e" stroke-width="0.9"/>
<circle cx="1591.1" cy="315.1" r="2.0" fill="#f7941d" stroke="#ffc20e" stroke-width="0.9"/>
<circle cx="1603.2" cy="315.1" r="2.0" fill="#f7941d" stroke="#ffc20e" stroke-width="0.9"/>
<circle cx="1615.6" cy="305.9" r="2.0" fill="#f7941d" stroke="#ffc20e" stroke-width="0.9"/>
<circle cx="1628.8" cy="301.9" r="2.0" fill="#f7941d" stroke="#ffc20e" stroke-width="0.9"/>
<circle cx="1641.2" cy="290.1" r="2.0" fill="#f7941d" stroke="#ffc20e" stroke-width="0.9"/>
<path d="M1464.2,163.0 C1468.9,165.2 1474.4,165.2 1478.2,169.5 C1484.1,176.0 1483.9,198.6 1489.8,203.8 C1493.3,206.9 1498.9,203.5 1502.5,206.5 C1508.2,211.1 1511.2,224.6 1515.1,235.5 C1519.9,248.8 1523.3,268.2 1528.3,280.8 C1532.1,290.4 1536.3,297.8 1540.7,305.3 C1544.6,312.0 1548.2,319.9 1553.1,323.8 C1557.0,326.9 1561.9,328.2 1566.3,329.0 C1570.3,329.8 1574.7,330.6 1578.4,329.0 C1582.9,327.1 1586.1,319.7 1590.5,316.4 C1594.6,313.4 1599.4,309.8 1603.7,309.8 C1608.0,309.8 1612.5,317.1 1616.4,316.4 C1620.9,315.6 1625.1,308.5 1628.8,302.4 C1633.8,294.1 1636.3,278.6 1641.2,269.8 C1645.0,263.0 1649.9,259.2 1653.8,253.1 C1658.1,246.3 1661.5,230.9 1665.7,230.7 C1669.9,230.5 1674.9,251.8 1678.9,251.3 C1684.0,250.7 1688.2,227.9 1692.0,212.8 C1697.1,192.5 1699.9,164.1 1703.9,139.8" fill="none" stroke="#ffffff" stroke-width="2.4" stroke-linejoin="round" stroke-linecap="round"/>
<circle cx="1464.2" cy="163.0" r="2.2" fill="#ffffff"/>
<circle cx="1478.2" cy="169.5" r="2.2" fill="#ffffff"/>
<circle cx="1489.8" cy="203.8" r="2.2" fill="#ffffff"/>
<circle cx="1502.5" cy="206.5" r="2.2" fill="#ffffff"/>
<circle cx="1515.1" cy="235.5" r="2.2" fill="#ffffff"/>
<circle cx="1528.3" cy="280.8" r="2.2" fill="#ffffff"/>
<circle cx="1540.7" cy="305.3" r="2.2" fill="#ffffff"/>
<circle cx="1553.1" cy="323.8" r="2.2" fill="#ffffff"/>
<circle cx="1566.3" cy="329.0" r="2.2" fill="#ffffff"/>
<circle cx="1578.4" cy="329.0" r="2.2" fill="#ffffff"/>
<circle cx="1590.5" cy="316.4" r="2.2" fill="#ffffff"/>
<circle cx="1603.7" cy="309.8" r="2.2" fill="#ffffff"/>
<circle cx="1616.4" cy="316.4" r="2.2" fill="#ffffff"/>
<circle cx="1628.8" cy="302.4" r="2.2" fill="#ffffff"/>
<circle cx="1641.2" cy="269.8" r="2.2" fill="#ffffff"/>
<circle cx="1653.8" cy="253.1" r="2.2" fill="#ffffff"/>
<circle cx="1665.7" cy="230.7" r="2.2" fill="#ffffff"/>
<circle cx="1678.9" cy="251.3" r="2.2" fill="#ffffff"/>
<circle cx="1692.0" cy="212.8" r="2.2" fill="#ffffff"/>
<circle cx="1703.9" cy="139.8" r="2.2" fill="#ffffff"/>
<path d="M657.9,671.7 C662.0,677.9 666.5,682.4 670.1,690.3 C675.5,702.0 678.8,722.6 683.4,736.7 C687.3,748.8 691.3,759.2 695.5,770.1 C699.5,780.7 704.1,789.5 708.0,801.2 C712.8,815.7 716.1,836.2 721.0,850.7 C725.0,862.7 728.4,876.9 734.3,882.6 C738.0,886.2 743.0,888.3 747.0,887.5 C751.5,886.6 755.1,876.8 759.7,875.3 C763.6,874.0 768.7,879.1 772.4,877.0 C778.6,873.3 782.2,855.5 786.1,842.4 C791.0,826.0 793.6,803.8 797.8,785.8 C801.7,769.2 805.5,752.5 810.4,738.4 C814.5,726.5 819.3,715.6 824.2,706.2 C828.2,698.4 833.0,693.7 836.8,685.7 C841.5,675.9 845.0,662.6 849.1,651.1" fill="none" stroke="#ffb612" stroke-width="2.4" stroke-linejoin="round" stroke-linecap="round"/>
<circle cx="657.9" cy="671.7" r="2.0" fill="#f7941d" stroke="#ffc20e" stroke-width="0.9"/>
<circle cx="670.1" cy="690.3" r="2.0" fill="#f7941d" stroke="#ffc20e" stroke-width="0.9"/>
<circle cx="683.4" cy="736.7" r="2.0" fill="#f7941d" stroke="#ffc20e" stroke-width="0.9"/>
<circle cx="695.5" cy="770.1" r="2.0" fill="#f7941d" stroke="#ffc20e" stroke-width="0.9"/>
<circle cx="708.0" cy="801.2" r="2.0" fill="#f7941d" stroke="#ffc20e" stroke-width="0.9"/>
<circle cx="721.0" cy="850.7" r="2.0" fill="#f7941d" stroke="#ffc20e" stroke-width="0.9"/>
<circle cx="734.3" cy="882.6" r="2.0" fill="#f7941d" stroke="#ffc20e" stroke-width="0.9"/>
<circle cx="747.0" cy="887.5" r="2.0" fill="#f7941d" stroke="#ffc20e" stroke-width="0.9"/>
<circle cx="759.7" cy="875.3" r="2.0" fill="#f7941d" stroke="#ffc20e" stroke-width="0.9"/>
<circle cx="772.4" cy="877.0" r="2.0" fill="#f7941d" stroke="#ffc20e" stroke-width="0.9"/>
<circle cx="786.1" cy="842.4" r="2.0" fill="#f7941d" stroke="#ffc20e" stroke-width="0.9"/>
<circle cx="797.8" cy="785.8" r="2.0" fill="#f7941d" stroke="#ffc20e" stroke-width="0.9"/>
<circle cx="810.4" cy="738.4" r="2.0" fill="#f7941d" stroke="#ffc20e" stroke-width="0.9"/>
<circle cx="824.2" cy="706.2" r="2.0" fill="#f7941d" stroke="#ffc20e" stroke-width="0.9"/>
<circle cx="836.8" cy="685.7" r="2.0" fill="#f7941d" stroke="#ffc20e" stroke-width="0.9"/>
<circle cx="849.1" cy="651.1" r="2.0" fill="#f7941d" stroke="#ffc20e" stroke-width="0.9"/>
<path d="M657.9,671.7 C660.3,669.8 662.8,666.1 665.0,666.0 C666.8,666.0 668.4,667.3 670.1,669.7 C674.6,676.1 678.0,700.4 682.5,714.1 C686.5,726.3 691.4,735.6 695.5,748.0 C700.3,762.5 704.5,780.1 708.8,796.1 C713.0,811.8 716.1,829.7 721.0,843.1 C724.9,853.7 728.9,864.2 734.3,870.5 C738.2,875.0 743.2,876.5 747.5,879.6 C751.7,882.6 756.0,884.9 759.9,888.7 C764.5,893.2 768.1,901.0 772.8,905.4 C776.8,909.1 782.3,912.0 785.6,914.0 C787.5,915.2 788.8,917.2 790.3,916.6 C793.4,915.4 795.7,904.8 798.0,894.1 C803.3,869.6 803.8,799.4 810.4,770.0 C814.2,753.1 818.8,740.8 824.2,731.1 C828.0,724.3 832.5,720.5 836.8,715.5 C841.0,710.7 845.4,706.4 849.7,701.8" fill="none" stroke="#f5202e" stroke-width="2.4" stroke-linejoin="round" stroke-linecap="round"/>
<circle cx="657.9" cy="671.7" r="2.2" fill="#f5202e"/>
<circle cx="670.1" cy="669.7" r="2.2" fill="#f5202e"/>
<circle cx="682.5" cy="714.1" r="2.2" fill="#f5202e"/>
<circle cx="695.5" cy="748.0" r="2.2" fill="#f5202e"/>
<circle cx="708.8" cy="796.1" r="2.2" fill="#f5202e"/>
<circle cx="721.0" cy="843.1" r="2.2" fill="#f5202e"/>
<circle cx="734.3" cy="870.5" r="2.2" fill="#f5202e"/>
<circle cx="747.5" cy="879.6" r="2.2" fill="#f5202e"/>
<circle cx="759.9" cy="888.7" r="2.2" fill="#f5202e"/>
<circle cx="772.8" cy="905.4" r="2.2" fill="#f5202e"/>
<circle cx="785.6" cy="914.0" r="2.2" fill="#f5202e"/>
<circle cx="798.0" cy="894.1" r="2.2" fill="#f5202e"/>
<circle cx="810.4" cy="770.0" r="2.2" fill="#f5202e"/>
<circle cx="824.2" cy="731.1" r="2.2" fill="#f5202e"/>
<circle cx="836.8" cy="715.5" r="2.2" fill="#f5202e"/>
<circle cx="849.7" cy="701.8" r="2.2" fill="#f5202e"/>
<path d="M657.9,671.7 C662.0,679.5 665.4,689.2 670.1,695.1 C673.8,699.8 678.8,700.8 682.5,705.6 C687.6,712.2 691.0,724.2 695.5,732.8 C699.8,740.9 705.0,746.2 708.8,756.0 C714.4,770.3 715.8,798.5 721.5,812.0 C725.2,820.7 730.2,824.8 734.3,831.7 C738.7,838.9 743.0,850.5 747.0,854.4 C749.0,856.4 751.0,857.8 752.9,857.6 C755.1,857.4 757.1,854.4 759.3,852.2 C762.1,849.5 765.9,842.5 768.3,842.4 C769.8,842.4 770.8,844.0 772.2,846.3 C776.2,852.8 781.9,889.8 786.0,889.6 C790.6,889.4 794.2,854.1 797.8,832.1 C802.6,802.9 803.4,752.2 810.4,729.6 C814.2,717.5 819.3,710.6 824.2,703.2 C828.2,697.2 833.0,694.3 836.8,688.0 C841.7,679.9 844.1,659.9 849.7,657.8 C853.3,656.4 858.5,663.7 862.3,663.7 C865.5,663.7 868.8,659.0 871.1,659.3 C872.9,659.5 873.9,660.7 875.4,662.8 C879.3,668.6 883.3,701.6 887.7,701.8 C891.8,702.0 896.5,679.7 900.9,668.7" fill="none" stroke="#ffffff" stroke-width="2.4" stroke-linejoin="round" stroke-linecap="round"/>
<circle cx="657.9" cy="671.7" r="2.2" fill="#ffffff"/>
<circle cx="670.1" cy="695.1" r="2.2" fill="#ffffff"/>
<circle cx="682.5" cy="705.6" r="2.2" fill="#ffffff"/>
<circle cx="695.5" cy="732.8" r="2.2" fill="#ffffff"/>
<circle cx="708.8" cy="756.0" r="2.2" fill="#ffffff"/>
<circle cx="721.5" cy="812.0" r="2.2" fill="#ffffff"/>
<circle cx="734.3" cy="831.7" r="2.2" fill="#ffffff"/>
<circle cx="747.0" cy="854.4" r="2.2" fill="#ffffff"/>
<circle cx="759.3" cy="852.2" r="2.2" fill="#ffffff"/>
<circle cx="772.2" cy="846.3" r="2.2" fill="#ffffff"/>
<circle cx="786.0" cy="889.6" r="2.2" fill="#ffffff"/>
<circle cx="797.8" cy="832.1" r="2.2" fill="#ffffff"/>
<circle cx="810.4" cy="729.6" r="2.2" fill="#ffffff"/>
<circle cx="824.2" cy="703.2" r="2.2" fill="#ffffff"/>
<circle cx="836.8" cy="688.0" r="2.2" fill="#ffffff"/>
<circle cx="849.7" cy="657.8" r="2.2" fill="#ffffff"/>
<circle cx="862.3" cy="663.7" r="2.2" fill="#ffffff"/>
<circle cx="875.4" cy="662.8" r="2.2" fill="#ffffff"/>
<circle cx="887.7" cy="701.8" r="2.2" fill="#ffffff"/>
<circle cx="900.9" cy="668.7" r="2.2" fill="#ffffff"/>
<path d="M1064.6,671.5 C1068.9,676.9 1073.5,681.2 1077.4,687.8 C1082.3,696.3 1085.7,709.5 1090.2,719.3 C1094.3,728.3 1098.3,743.9 1103.1,744.5 C1107.1,745.0 1112.0,735.7 1116.0,730.4 C1120.4,724.5 1123.7,716.9 1128.0,710.5 C1132.2,704.2 1136.4,694.2 1141.6,692.2 C1145.5,690.7 1150.6,692.2 1154.5,694.7 C1159.6,698.0 1163.2,713.0 1167.5,713.0 C1171.8,713.0 1176.4,702.0 1180.2,694.7 C1185.1,685.5 1189.1,660.9 1192.9,661.2 C1197.7,661.5 1200.9,698.1 1205.2,716.6 C1209.5,735.2 1212.7,771.3 1218.5,772.3 C1222.3,772.9 1227.5,758.5 1231.7,751.4 C1235.9,744.2 1239.3,735.6 1243.9,729.5 C1247.8,724.3 1252.4,720.9 1256.6,716.6" fill="none" stroke="#f5202e" stroke-width="2.4" stroke-linejoin="round" stroke-linecap="round"/>
<circle cx="1064.6" cy="671.5" r="2.2" fill="#f5202e"/>
<circle cx="1077.4" cy="687.8" r="2.2" fill="#f5202e"/>
<circle cx="1090.2" cy="719.3" r="2.2" fill="#f5202e"/>
<circle cx="1103.1" cy="744.5" r="2.2" fill="#f5202e"/>
<circle cx="1116.0" cy="730.4" r="2.2" fill="#f5202e"/>
<circle cx="1128.0" cy="710.5" r="2.2" fill="#f5202e"/>
<circle cx="1141.6" cy="692.2" r="2.2" fill="#f5202e"/>
<circle cx="1154.5" cy="694.7" r="2.2" fill="#f5202e"/>
<circle cx="1167.5" cy="713.0" r="2.2" fill="#f5202e"/>
<circle cx="1180.2" cy="694.7" r="2.2" fill="#f5202e"/>
<circle cx="1192.9" cy="661.2" r="2.2" fill="#f5202e"/>
<circle cx="1205.2" cy="716.6" r="2.2" fill="#f5202e"/>
<circle cx="1218.5" cy="772.3" r="2.2" fill="#f5202e"/>
<circle cx="1231.7" cy="751.4" r="2.2" fill="#f5202e"/>
<circle cx="1243.9" cy="729.5" r="2.2" fill="#f5202e"/>
<circle cx="1256.6" cy="716.6" r="2.2" fill="#f5202e"/>
<path d="M1064.6,671.5 C1068.9,675.3 1073.6,677.6 1077.4,682.8 C1082.6,689.9 1085.9,702.4 1090.2,712.2 C1094.5,722.0 1098.5,735.3 1103.1,741.5 C1105.8,745.1 1109.0,748.6 1111.4,748.6 C1113.2,748.6 1114.4,747.0 1116.0,744.8 C1119.8,739.5 1122.4,719.7 1128.0,713.0 C1131.8,708.4 1137.1,704.9 1141.6,704.7 C1145.9,704.5 1150.6,707.9 1154.5,711.3 C1159.2,715.4 1162.1,727.1 1167.0,728.7 C1170.9,730.0 1176.5,722.9 1180.2,724.6 C1185.7,727.0 1187.2,745.7 1192.4,751.4 C1196.1,755.4 1200.9,758.2 1205.2,758.5 C1209.4,758.8 1213.9,756.5 1217.8,753.6 C1222.7,749.9 1226.0,738.8 1231.1,736.2 C1235.0,734.2 1239.7,735.0 1243.9,735.8 C1248.2,736.7 1252.4,739.6 1256.6,741.5" fill="none" stroke="#ffb612" stroke-width="2.4" stroke-linejoin="round" stroke-linecap="round"/>
<circle cx="1064.6" cy="671.5" r="2.0" fill="#f7941d" stroke="#ffc20e" stroke-width="0.9"/>
<circle cx="1077.4" cy="682.8" r="2.0" fill="#f7941d" stroke="#ffc20e" stroke-width="0.9"/>
<circle cx="1090.2" cy="712.2" r="2.0" fill="#f7941d" stroke="#ffc20e" stroke-width="0.9"/>
<circle cx="1103.1" cy="741.5" r="2.0" fill="#f7941d" stroke="#ffc20e" stroke-width="0.9"/>
<circle cx="1116.0" cy="744.8" r="2.0" fill="#f7941d" stroke="#ffc20e" stroke-width="0.9"/>
<circle cx="1128.0" cy="713.0" r="2.0" fill="#f7941d" stroke="#ffc20e" stroke-width="0.9"/>
<circle cx="1141.6" cy="704.7" r="2.0" fill="#f7941d" stroke="#ffc20e" stroke-width="0.9"/>
<circle cx="1154.5" cy="711.3" r="2.0" fill="#f7941d" stroke="#ffc20e" stroke-width="0.9"/>
<circle cx="1167.0" cy="728.7" r="2.0" fill="#f7941d" stroke="#ffc20e" stroke-width="0.9"/>
<circle cx="1180.2" cy="724.6" r="2.0" fill="#f7941d" stroke="#ffc20e" stroke-width="0.9"/>
<circle cx="1192.4" cy="751.4" r="2.0" fill="#f7941d" stroke="#ffc20e" stroke-width="0.9"/>
<circle cx="1205.2" cy="758.5" r="2.0" fill="#f7941d" stroke="#ffc20e" stroke-width="0.9"/>
<circle cx="1217.8" cy="753.6" r="2.0" fill="#f7941d" stroke="#ffc20e" stroke-width="0.9"/>
<circle cx="1231.1" cy="736.2" r="2.0" fill="#f7941d" stroke="#ffc20e" stroke-width="0.9"/>
<circle cx="1243.9" cy="735.8" r="2.0" fill="#f7941d" stroke="#ffc20e" stroke-width="0.9"/>
<circle cx="1256.6" cy="741.5" r="2.0" fill="#f7941d" stroke="#ffc20e" stroke-width="0.9"/>
<path d="M1064.6,671.5 C1068.3,668.1 1072.2,660.6 1075.6,661.3 C1080.9,662.4 1085.2,683.4 1089.8,694.4 C1094.4,705.3 1097.9,718.4 1103.1,727.1 C1107.1,733.8 1111.7,742.2 1116.4,743.2 C1120.2,744.0 1124.2,738.8 1128.3,737.0 C1132.6,735.1 1137.3,731.7 1141.6,732.1 C1146.0,732.5 1150.0,738.0 1154.5,739.5 C1158.7,740.9 1163.5,739.5 1167.5,741.2 C1171.8,743.1 1175.2,750.5 1179.4,750.8 C1183.5,751.1 1188.6,741.9 1192.4,743.1 C1197.7,744.8 1199.4,768.2 1204.9,770.7 C1208.6,772.4 1214.1,770.0 1217.8,766.8 C1223.4,762.0 1225.3,745.8 1230.6,739.5 C1234.5,734.9 1239.3,731.8 1243.9,730.3 C1248.0,728.9 1252.5,731.0 1256.6,729.8 C1261.1,728.5 1265.6,725.8 1269.6,722.1 C1274.5,717.5 1278.7,710.7 1282.5,703.0 C1287.5,692.9 1289.5,675.0 1294.8,665.7 C1298.6,659.1 1303.6,655.7 1308.0,650.7" fill="none" stroke="#ffffff" stroke-width="2.4" stroke-linejoin="round" stroke-linecap="round"/>
<circle cx="1064.6" cy="671.5" r="2.2" fill="#ffffff"/>
<circle cx="1075.6" cy="661.3" r="2.2" fill="#ffffff"/>
<circle cx="1089.8" cy="694.4" r="2.2" fill="#ffffff"/>
<circle cx="1103.1" cy="727.1" r="2.2" fill="#ffffff"/>
<circle cx="1116.4" cy="743.2" r="2.2" fill="#ffffff"/>
<circle cx="1128.3" cy="737.0" r="2.2" fill="#ffffff"/>
<circle cx="1141.6" cy="732.1" r="2.2" fill="#ffffff"/>
<circle cx="1154.5" cy="739.5" r="2.2" fill="#ffffff"/>
<circle cx="1167.5" cy="741.2" r="2.2" fill="#ffffff"/>
<circle cx="1179.4" cy="750.8" r="2.2" fill="#ffffff"/>
<circle cx="1192.4" cy="743.1" r="2.2" fill="#ffffff"/>
<circle cx="1204.9" cy="770.7" r="2.2" fill="#ffffff"/>
<circle cx="1217.8" cy="766.8" r="2.2" fill="#ffffff"/>
<circle cx="1230.6" cy="739.5" r="2.2" fill="#ffffff"/>
<circle cx="1243.9" cy="730.3" r="2.2" fill="#ffffff"/>
<circle cx="1256.6" cy="729.8" r="2.2" fill="#ffffff"/>
<circle cx="1269.6" cy="722.1" r="2.2" fill="#ffffff"/>
<circle cx="1282.5" cy="703.0" r="2.2" fill="#ffffff"/>
<circle cx="1294.8" cy="665.7" r="2.2" fill="#ffffff"/>
<circle cx="1308.0" cy="650.7" r="2.2" fill="#ffffff"/>
<path d="M1467.0,672.4 C1471.3,678.2 1476.0,683.3 1480.0,689.9 C1484.6,697.4 1488.8,706.2 1492.8,715.5 C1497.4,726.1 1501.5,738.2 1505.6,750.5 C1510.1,763.9 1514.1,780.0 1518.6,793.1 C1522.6,804.6 1525.9,816.6 1530.9,825.0 C1534.8,831.6 1539.8,835.9 1544.4,840.7 C1548.6,845.2 1552.7,852.2 1557.2,853.0 C1561.2,853.7 1565.5,849.1 1569.7,847.4 C1573.9,845.7 1578.2,844.2 1582.5,843.0 C1586.8,841.8 1592.0,843.5 1595.7,840.4 C1601.6,835.5 1604.2,820.5 1608.0,808.7 C1612.6,794.3 1615.5,774.2 1620.4,760.0 C1624.4,748.4 1628.2,735.8 1633.8,729.3 C1637.6,724.9 1642.6,723.9 1646.9,721.2 C1651.2,718.5 1655.4,715.7 1659.7,712.9" fill="none" stroke="#ffb612" stroke-width="2.4" stroke-linejoin="round" stroke-linecap="round"/>
<circle cx="1467.0" cy="672.4" r="2.0" fill="#f7941d" stroke="#ffc20e" stroke-width="0.9"/>
<circle cx="1480.0" cy="689.9" r="2.0" fill="#f7941d" stroke="#ffc20e" stroke-width="0.9"/>
<circle cx="1492.8" cy="715.5" r="2.0" fill="#f7941d" stroke="#ffc20e" stroke-width="0.9"/>
<circle cx="1505.6" cy="750.5" r="2.0" fill="#f7941d" stroke="#ffc20e" stroke-width="0.9"/>
<circle cx="1518.6" cy="793.1" r="2.0" fill="#f7941d" stroke="#ffc20e" stroke-width="0.9"/>
<circle cx="1530.9" cy="825.0" r="2.0" fill="#f7941d" stroke="#ffc20e" stroke-width="0.9"/>
<circle cx="1544.4" cy="840.7" r="2.0" fill="#f7941d" stroke="#ffc20e" stroke-width="0.9"/>
<circle cx="1557.2" cy="853.0" r="2.0" fill="#f7941d" stroke="#ffc20e" stroke-width="0.9"/>
<circle cx="1569.7" cy="847.4" r="2.0" fill="#f7941d" stroke="#ffc20e" stroke-width="0.9"/>
<circle cx="1582.5" cy="843.0" r="2.0" fill="#f7941d" stroke="#ffc20e" stroke-width="0.9"/>
<circle cx="1595.7" cy="840.4" r="2.0" fill="#f7941d" stroke="#ffc20e" stroke-width="0.9"/>
<circle cx="1608.0" cy="808.7" r="2.0" fill="#f7941d" stroke="#ffc20e" stroke-width="0.9"/>
<circle cx="1620.4" cy="760.0" r="2.0" fill="#f7941d" stroke="#ffc20e" stroke-width="0.9"/>
<circle cx="1633.8" cy="729.3" r="2.0" fill="#f7941d" stroke="#ffc20e" stroke-width="0.9"/>
<circle cx="1646.9" cy="721.2" r="2.0" fill="#f7941d" stroke="#ffc20e" stroke-width="0.9"/>
<circle cx="1659.7" cy="712.9" r="2.0" fill="#f7941d" stroke="#ffc20e" stroke-width="0.9"/>
<path d="M1467.0,672.4 C1471.5,677.3 1476.1,681.9 1480.4,687.0 C1484.9,692.2 1489.5,697.0 1493.4,703.4 C1498.1,711.0 1501.8,720.2 1505.6,730.3 C1510.2,742.8 1512.6,762.8 1518.1,773.0 C1521.8,779.8 1526.6,782.8 1530.9,788.0 C1535.4,793.4 1539.5,800.7 1544.4,804.8 C1548.4,808.2 1552.8,811.4 1557.2,812.0 C1561.3,812.6 1565.6,810.5 1569.7,808.9 C1574.0,807.2 1578.4,801.6 1582.5,802.1 C1587.1,802.7 1591.0,812.6 1595.7,813.9 C1599.6,815.0 1604.3,813.9 1608.0,811.6 C1612.8,808.5 1616.7,801.7 1620.4,794.4 C1625.7,783.9 1628.4,763.9 1633.8,753.3 C1637.7,745.7 1642.0,739.5 1646.9,735.4 C1650.8,732.2 1655.4,731.3 1659.7,729.3" fill="none" stroke="#f5202e" stroke-width="2.4" stroke-linejoin="round" stroke-linecap="round"/>
<circle cx="1467.0" cy="672.4" r="2.2" fill="#f5202e"/>
<circle cx="1480.4" cy="687.0" r="2.2" fill="#f5202e"/>
<circle cx="1493.4" cy="703.4" r="2.2" fill="#f5202e"/>
<circle cx="1505.6" cy="730.3" r="2.2" fill="#f5202e"/>
<circle cx="1518.1" cy="773.0" r="2.2" fill="#f5202e"/>
<circle cx="1530.9" cy="788.0" r="2.2" fill="#f5202e"/>
<circle cx="1544.4" cy="804.8" r="2.2" fill="#f5202e"/>
<circle cx="1557.2" cy="812.0" r="2.2" fill="#f5202e"/>
<circle cx="1569.7" cy="808.9" r="2.2" fill="#f5202e"/>
<circle cx="1582.5" cy="802.1" r="2.2" fill="#f5202e"/>
<circle cx="1595.7" cy="813.9" r="2.2" fill="#f5202e"/>
<circle cx="1608.0" cy="811.6" r="2.2" fill="#f5202e"/>
<circle cx="1620.4" cy="794.4" r="2.2" fill="#f5202e"/>
<circle cx="1633.8" cy="753.3" r="2.2" fill="#f5202e"/>
<circle cx="1646.9" cy="735.4" r="2.2" fill="#f5202e"/>
<circle cx="1659.7" cy="729.3" r="2.2" fill="#f5202e"/>
<path d="M1467.0,672.4 C1471.3,677.3 1475.9,681.5 1480.0,687.0 C1484.6,693.2 1488.7,700.5 1492.8,707.9 C1497.2,715.9 1501.4,724.7 1505.6,733.5 C1510.0,742.6 1514.3,752.4 1518.6,761.7 C1522.8,770.8 1525.5,783.3 1530.9,788.7 C1534.7,792.5 1539.9,793.0 1544.4,794.7 C1548.7,796.3 1552.9,797.9 1557.2,798.5 C1561.3,799.1 1565.7,797.4 1569.7,798.5 C1574.1,799.7 1578.2,803.4 1582.5,805.9 C1586.9,808.5 1591.4,811.3 1595.7,813.9 C1599.7,816.4 1603.9,822.4 1607.4,821.3 C1612.7,819.7 1616.3,802.2 1620.4,791.4 C1625.1,779.1 1628.4,762.6 1633.4,751.1 C1637.5,741.8 1641.4,731.2 1646.9,727.1 C1650.7,724.2 1655.9,726.6 1659.7,724.1 C1664.5,721.0 1667.3,711.6 1672.0,707.8 C1676.0,704.6 1681.8,705.7 1685.5,701.7 C1691.1,695.8 1691.8,677.9 1697.1,671.0 C1700.9,666.1 1706.2,664.5 1710.8,661.3" fill="none" stroke="#ffffff" stroke-width="2.4" stroke-linejoin="round" stroke-linecap="round"/>
<circle cx="1467.0" cy="672.4" r="2.2" fill="#ffffff"/>
<circle cx="1480.0" cy="687.0" r="2.2" fill="#ffffff"/>
<circle cx="1492.8" cy="707.9" r="2.2" fill="#ffffff"/>
<circle cx="1505.6" cy="733.5" r="2.2" fill="#ffffff"/>
<circle cx="1518.6" cy="761.7" r="2.2" fill="#ffffff"/>
<circle cx="1530.9" cy="788.7" r="2.2" fill="#ffffff"/>
<circle cx="1544.4" cy="794.7" r="2.2" fill="#ffffff"/>
<circle cx="1557.2" cy="798.5" r="2.2" fill="#ffffff"/>
<circle cx="1569.7" cy="798.5" r="2.2" fill="#ffffff"/>
<circle cx="1582.5" cy="805.9" r="2.2" fill="#ffffff"/>
<circle cx="1595.7" cy="813.9" r="2.2" fill="#ffffff"/>
<circle cx="1607.4" cy="821.3" r="2.2" fill="#ffffff"/>
<circle cx="1620.4" cy="791.4" r="2.2" fill="#ffffff"/>
<circle cx="1633.4" cy="751.1" r="2.2" fill="#ffffff"/>
<circle cx="1646.9" cy="727.1" r="2.2" fill="#ffffff"/>
<circle cx="1659.7" cy="724.1" r="2.2" fill="#ffffff"/>
<circle cx="1672.0" cy="707.8" r="2.2" fill="#ffffff"/>
<circle cx="1685.5" cy="701.7" r="2.2" fill="#ffffff"/>
<circle cx="1697.1" cy="671.0" r="2.2" fill="#ffffff"/>
<circle cx="1710.8" cy="661.3" r="2.2" fill="#ffffff"/>
<rect x="95" y="763.3" width="229.1" height="148.5" fill="#000"/>
<line x1="118.5" y1="796.9" x2="202.5" y2="796.9" stroke="#ffffff" stroke-width="5.6" stroke-linecap="round"/>
<ellipse cx="162.8" cy="798.2" rx="12.8" ry="14.9" fill="#ffffff"/>
<text transform="translate(221.5,807.9) scale(1,1.040)" font-size="30.0" fill="#ffffff">Rest</text>
<line x1="118.5" y1="838.9" x2="202.5" y2="838.9" stroke="#f7981a" stroke-width="5.6" stroke-linecap="round"/>
<ellipse cx="162.8" cy="840.2" rx="12.8" ry="14.9" fill="#f7981a"/>
<text transform="translate(221.5,849.9) scale(1,1.040)" font-size="30.0" fill="#ffffff">HV</text>
<line x1="120.5" y1="881.2" x2="204.5" y2="881.2" stroke="#ed1c24" stroke-width="5.6" stroke-linecap="round"/>
<ellipse cx="164.0" cy="882.5" rx="12.8" ry="14.9" fill="#ed1c24"/>
<text transform="translate(221.5,892.2) scale(1,1.040)" font-size="30.0" fill="#ffffff">Apnea</text>
</svg>
</body></html>
